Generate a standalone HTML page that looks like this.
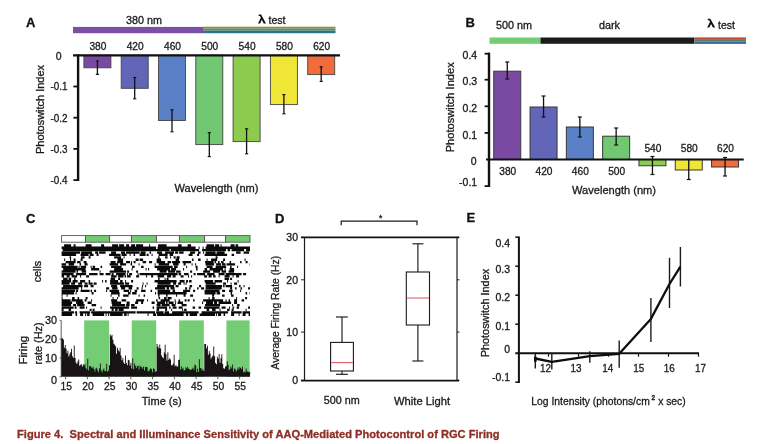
<!DOCTYPE html><html><head><meta charset="utf-8"><title>Figure 4</title>
<style>html,body{margin:0;padding:0;background:#fff;}body{width:758px;height:444px;overflow:hidden;font-family:"Liberation Sans",sans-serif;}svg{display:block;position:absolute;left:0;top:0;}text{font-family:"Liberation Sans",sans-serif;}</style></head><body>
<svg width="758" height="444" viewBox="0 0 758 444" style="filter:blur(0.35px)">
<rect x="0" y="0" width="758" height="444" fill="#ffffff"/>
<text x="26" y="27" font-size="13" text-anchor="start" font-weight="bold" fill="#111" stroke="#111" stroke-width="0.3" >A</text>
<rect x="73.00" y="26.90" width="130.00" height="6.30" fill="#7b4fa6"/>
<rect x="203.00" y="26.70" width="132.50" height="1.60" fill="#c07a35"/>
<rect x="203.00" y="28.30" width="132.50" height="2.40" fill="#5f9060"/>
<rect x="203.00" y="30.70" width="132.50" height="2.50" fill="#2a7485"/>
<text x="144" y="23.7" font-size="10.5" text-anchor="middle" font-weight="normal" fill="#1a1a1a" stroke="#1a1a1a" stroke-width="0.3" textLength="36" lengthAdjust="spacingAndGlyphs" >380 nm</text>
<path transform="translate(258,14.6)" d="M0.6 0H3.1L8 8.8H5.7L3.85 5.2L2.1 8.8H0L2.8 3.1L2.0 1.5H0.6Z" fill="#111"/>
<text x="268.5" y="23.8" font-size="10.5" text-anchor="start" font-weight="normal" fill="#1a1a1a" stroke="#1a1a1a" stroke-width="0.3" textLength="17" lengthAdjust="spacingAndGlyphs" >test</text>
<rect x="83.90" y="55.30" width="27.00" height="12.50" fill="#7a4aa3" stroke="#444" stroke-width="0.9"/>
<line x1="97.40" y1="61.00" x2="97.40" y2="74.40" stroke="#111" stroke-width="1.3"/>
<line x1="95.80" y1="61.00" x2="99.00" y2="61.00" stroke="#111" stroke-width="1.1"/>
<line x1="95.80" y1="74.40" x2="99.00" y2="74.40" stroke="#111" stroke-width="1.1"/>
<text x="97.9" y="49.8" font-size="10.5" text-anchor="middle" font-weight="normal" fill="#1a1a1a" stroke="#1a1a1a" stroke-width="0.3" textLength="17" lengthAdjust="spacingAndGlyphs" >380</text>
<rect x="121.20" y="55.30" width="27.00" height="33.00" fill="#6266b9" stroke="#444" stroke-width="0.9"/>
<line x1="134.70" y1="77.50" x2="134.70" y2="98.80" stroke="#111" stroke-width="1.3"/>
<line x1="133.10" y1="77.50" x2="136.30" y2="77.50" stroke="#111" stroke-width="1.1"/>
<line x1="133.10" y1="98.80" x2="136.30" y2="98.80" stroke="#111" stroke-width="1.1"/>
<text x="135.2" y="49.8" font-size="10.5" text-anchor="middle" font-weight="normal" fill="#1a1a1a" stroke="#1a1a1a" stroke-width="0.3" textLength="17" lengthAdjust="spacingAndGlyphs" >420</text>
<rect x="158.50" y="55.30" width="27.00" height="65.20" fill="#5a80c8" stroke="#444" stroke-width="0.9"/>
<line x1="172.00" y1="109.80" x2="172.00" y2="131.80" stroke="#111" stroke-width="1.3"/>
<line x1="170.40" y1="109.80" x2="173.60" y2="109.80" stroke="#111" stroke-width="1.1"/>
<line x1="170.40" y1="131.80" x2="173.60" y2="131.80" stroke="#111" stroke-width="1.1"/>
<text x="172.5" y="49.8" font-size="10.5" text-anchor="middle" font-weight="normal" fill="#1a1a1a" stroke="#1a1a1a" stroke-width="0.3" textLength="17" lengthAdjust="spacingAndGlyphs" >460</text>
<rect x="195.80" y="55.30" width="27.00" height="89.30" fill="#72c872" stroke="#444" stroke-width="0.9"/>
<line x1="209.30" y1="132.60" x2="209.30" y2="156.60" stroke="#111" stroke-width="1.3"/>
<line x1="207.70" y1="132.60" x2="210.90" y2="132.60" stroke="#111" stroke-width="1.1"/>
<line x1="207.70" y1="156.60" x2="210.90" y2="156.60" stroke="#111" stroke-width="1.1"/>
<text x="209.8" y="49.8" font-size="10.5" text-anchor="middle" font-weight="normal" fill="#1a1a1a" stroke="#1a1a1a" stroke-width="0.3" textLength="17" lengthAdjust="spacingAndGlyphs" >500</text>
<rect x="233.10" y="55.30" width="27.00" height="86.30" fill="#8ccb4e" stroke="#444" stroke-width="0.9"/>
<line x1="246.60" y1="128.80" x2="246.60" y2="153.80" stroke="#111" stroke-width="1.3"/>
<line x1="245.00" y1="128.80" x2="248.20" y2="128.80" stroke="#111" stroke-width="1.1"/>
<line x1="245.00" y1="153.80" x2="248.20" y2="153.80" stroke="#111" stroke-width="1.1"/>
<text x="247.1" y="49.8" font-size="10.5" text-anchor="middle" font-weight="normal" fill="#1a1a1a" stroke="#1a1a1a" stroke-width="0.3" textLength="17" lengthAdjust="spacingAndGlyphs" >540</text>
<rect x="270.40" y="55.30" width="27.00" height="49.30" fill="#f0e636" stroke="#444" stroke-width="0.9"/>
<line x1="283.90" y1="94.60" x2="283.90" y2="113.80" stroke="#111" stroke-width="1.3"/>
<line x1="282.30" y1="94.60" x2="285.50" y2="94.60" stroke="#111" stroke-width="1.1"/>
<line x1="282.30" y1="113.80" x2="285.50" y2="113.80" stroke="#111" stroke-width="1.1"/>
<text x="284.4" y="49.8" font-size="10.5" text-anchor="middle" font-weight="normal" fill="#1a1a1a" stroke="#1a1a1a" stroke-width="0.3" textLength="17" lengthAdjust="spacingAndGlyphs" >580</text>
<rect x="307.70" y="55.30" width="27.00" height="19.30" fill="#f26b3a" stroke="#444" stroke-width="0.9"/>
<line x1="321.20" y1="66.80" x2="321.20" y2="81.40" stroke="#111" stroke-width="1.3"/>
<line x1="319.60" y1="66.80" x2="322.80" y2="66.80" stroke="#111" stroke-width="1.1"/>
<line x1="319.60" y1="81.40" x2="322.80" y2="81.40" stroke="#111" stroke-width="1.1"/>
<text x="321.7" y="49.8" font-size="10.5" text-anchor="middle" font-weight="normal" fill="#1a1a1a" stroke="#1a1a1a" stroke-width="0.3" textLength="17" lengthAdjust="spacingAndGlyphs" >620</text>
<line x1="73.00" y1="55.30" x2="340.00" y2="55.30" stroke="#111" stroke-width="2.2"/>
<line x1="78.10" y1="54.30" x2="78.10" y2="181.00" stroke="#111" stroke-width="2.4"/>
<line x1="73.40" y1="86.50" x2="78.10" y2="86.50" stroke="#111" stroke-width="1.8"/>
<text x="67.5" y="90.3" font-size="10.5" text-anchor="end" font-weight="normal" fill="#1a1a1a" stroke="#1a1a1a" stroke-width="0.3" textLength="17" lengthAdjust="spacingAndGlyphs" >-0.1</text>
<line x1="73.40" y1="117.70" x2="78.10" y2="117.70" stroke="#111" stroke-width="1.8"/>
<text x="67.5" y="121.49999999999999" font-size="10.5" text-anchor="end" font-weight="normal" fill="#1a1a1a" stroke="#1a1a1a" stroke-width="0.3" textLength="17" lengthAdjust="spacingAndGlyphs" >-0.2</text>
<line x1="73.40" y1="148.90" x2="78.10" y2="148.90" stroke="#111" stroke-width="1.8"/>
<text x="67.5" y="152.7" font-size="10.5" text-anchor="end" font-weight="normal" fill="#1a1a1a" stroke="#1a1a1a" stroke-width="0.3" textLength="17" lengthAdjust="spacingAndGlyphs" >-0.3</text>
<line x1="73.40" y1="180.10" x2="78.10" y2="180.10" stroke="#111" stroke-width="1.8"/>
<text x="67.5" y="183.9" font-size="10.5" text-anchor="end" font-weight="normal" fill="#1a1a1a" stroke="#1a1a1a" stroke-width="0.3" textLength="17" lengthAdjust="spacingAndGlyphs" >-0.4</text>
<text x="61.6" y="59.5" font-size="10.5" text-anchor="end" font-weight="normal" fill="#1a1a1a" stroke="#1a1a1a" stroke-width="0.3" >0</text>
<text transform="translate(44.3,109.5) rotate(-90)" font-size="10.5" text-anchor="middle" fill="#1a1a1a" stroke="#1a1a1a" stroke-width="0.3" textLength="89" lengthAdjust="spacingAndGlyphs">Photoswitch Index</text>
<text x="216.5" y="192" font-size="10.5" text-anchor="middle" font-weight="normal" fill="#1a1a1a" stroke="#1a1a1a" stroke-width="0.3" textLength="84" lengthAdjust="spacingAndGlyphs" >Wavelength (nm)</text>
<text x="465.5" y="27" font-size="13" text-anchor="start" font-weight="bold" fill="#111" stroke="#111" stroke-width="0.3" >B</text>
<rect x="489.50" y="37.50" width="51.00" height="6.30" fill="#74cc74"/>
<rect x="540.50" y="37.50" width="154.00" height="6.30" fill="#1c1c1c"/>
<rect x="694.70" y="37.40" width="51.30" height="1.70" fill="#b84a3a"/>
<rect x="694.70" y="39.10" width="51.30" height="2.30" fill="#5f7a68"/>
<rect x="694.70" y="41.40" width="51.30" height="2.50" fill="#3a6a9a"/>
<text x="514" y="28.9" font-size="10.5" text-anchor="middle" font-weight="normal" fill="#1a1a1a" stroke="#1a1a1a" stroke-width="0.3" textLength="36" lengthAdjust="spacingAndGlyphs" >500 nm</text>
<text x="609.5" y="28.5" font-size="10.5" text-anchor="middle" font-weight="normal" fill="#1a1a1a" stroke="#1a1a1a" stroke-width="0.3" textLength="21" lengthAdjust="spacingAndGlyphs" >dark</text>
<path transform="translate(707.2,18.8)" d="M0.6 0H3.1L8 8.8H5.7L3.85 5.2L2.1 8.8H0L2.8 3.1L2.0 1.5H0.6Z" fill="#111"/>
<text x="718" y="28.7" font-size="10.5" text-anchor="start" font-weight="normal" fill="#1a1a1a" stroke="#1a1a1a" stroke-width="0.3" textLength="17" lengthAdjust="spacingAndGlyphs" >test</text>
<rect x="493.75" y="71.20" width="27.00" height="88.30" fill="#7a4aa3" stroke="#383838" stroke-width="1.0"/>
<line x1="507.25" y1="62.00" x2="507.25" y2="79.00" stroke="#111" stroke-width="1.3"/>
<line x1="505.25" y1="62.00" x2="509.25" y2="62.00" stroke="#111" stroke-width="1.2"/>
<line x1="505.25" y1="79.00" x2="509.25" y2="79.00" stroke="#111" stroke-width="1.2"/>
<text x="507.75" y="175" font-size="10.5" text-anchor="middle" font-weight="normal" fill="#1a1a1a" stroke="#1a1a1a" stroke-width="0.3" textLength="17" lengthAdjust="spacingAndGlyphs" >380</text>
<rect x="530.05" y="107.00" width="27.00" height="52.50" fill="#6266b9" stroke="#383838" stroke-width="1.0"/>
<line x1="543.55" y1="96.00" x2="543.55" y2="117.00" stroke="#111" stroke-width="1.3"/>
<line x1="541.55" y1="96.00" x2="545.55" y2="96.00" stroke="#111" stroke-width="1.2"/>
<line x1="541.55" y1="117.00" x2="545.55" y2="117.00" stroke="#111" stroke-width="1.2"/>
<text x="544.05" y="175" font-size="10.5" text-anchor="middle" font-weight="normal" fill="#1a1a1a" stroke="#1a1a1a" stroke-width="0.3" textLength="17" lengthAdjust="spacingAndGlyphs" >420</text>
<rect x="566.35" y="127.00" width="27.00" height="32.50" fill="#5a80c8" stroke="#383838" stroke-width="1.0"/>
<line x1="579.85" y1="117.00" x2="579.85" y2="137.00" stroke="#111" stroke-width="1.3"/>
<line x1="577.85" y1="117.00" x2="581.85" y2="117.00" stroke="#111" stroke-width="1.2"/>
<line x1="577.85" y1="137.00" x2="581.85" y2="137.00" stroke="#111" stroke-width="1.2"/>
<text x="580.35" y="175" font-size="10.5" text-anchor="middle" font-weight="normal" fill="#1a1a1a" stroke="#1a1a1a" stroke-width="0.3" textLength="17" lengthAdjust="spacingAndGlyphs" >460</text>
<rect x="602.65" y="136.20" width="27.00" height="23.30" fill="#72c872" stroke="#383838" stroke-width="1.0"/>
<line x1="616.15" y1="128.00" x2="616.15" y2="145.00" stroke="#111" stroke-width="1.3"/>
<line x1="614.15" y1="128.00" x2="618.15" y2="128.00" stroke="#111" stroke-width="1.2"/>
<line x1="614.15" y1="145.00" x2="618.15" y2="145.00" stroke="#111" stroke-width="1.2"/>
<text x="616.65" y="175" font-size="10.5" text-anchor="middle" font-weight="normal" fill="#1a1a1a" stroke="#1a1a1a" stroke-width="0.3" textLength="17" lengthAdjust="spacingAndGlyphs" >500</text>
<rect x="638.95" y="159.50" width="27.00" height="6.25" fill="#8ccb4e" stroke="#383838" stroke-width="1.0"/>
<line x1="652.45" y1="156.50" x2="652.45" y2="174.50" stroke="#111" stroke-width="1.3"/>
<line x1="650.45" y1="156.50" x2="654.45" y2="156.50" stroke="#111" stroke-width="1.2"/>
<line x1="650.45" y1="174.50" x2="654.45" y2="174.50" stroke="#111" stroke-width="1.2"/>
<text x="652.95" y="151.5" font-size="10.5" text-anchor="middle" font-weight="normal" fill="#1a1a1a" stroke="#1a1a1a" stroke-width="0.3" textLength="17" lengthAdjust="spacingAndGlyphs" >540</text>
<rect x="675.25" y="159.50" width="27.00" height="10.50" fill="#f0e636" stroke="#383838" stroke-width="1.0"/>
<line x1="688.75" y1="159.50" x2="688.75" y2="179.50" stroke="#111" stroke-width="1.3"/>
<line x1="686.75" y1="159.50" x2="690.75" y2="159.50" stroke="#111" stroke-width="1.2"/>
<line x1="686.75" y1="179.50" x2="690.75" y2="179.50" stroke="#111" stroke-width="1.2"/>
<text x="689.25" y="151.5" font-size="10.5" text-anchor="middle" font-weight="normal" fill="#1a1a1a" stroke="#1a1a1a" stroke-width="0.3" textLength="17" lengthAdjust="spacingAndGlyphs" >580</text>
<rect x="711.55" y="159.50" width="27.00" height="7.50" fill="#f26b3a" stroke="#383838" stroke-width="1.0"/>
<line x1="725.05" y1="157.50" x2="725.05" y2="176.00" stroke="#111" stroke-width="1.3"/>
<line x1="723.05" y1="157.50" x2="727.05" y2="157.50" stroke="#111" stroke-width="1.2"/>
<line x1="723.05" y1="176.00" x2="727.05" y2="176.00" stroke="#111" stroke-width="1.2"/>
<text x="725.55" y="151.5" font-size="10.5" text-anchor="middle" font-weight="normal" fill="#1a1a1a" stroke="#1a1a1a" stroke-width="0.3" textLength="17" lengthAdjust="spacingAndGlyphs" >620</text>
<line x1="486.00" y1="159.50" x2="743.75" y2="159.50" stroke="#111" stroke-width="2.2"/>
<line x1="489.00" y1="52.60" x2="489.00" y2="187.00" stroke="#111" stroke-width="2.4"/>
<line x1="484.60" y1="53.70" x2="489.00" y2="53.70" stroke="#111" stroke-width="1.8"/>
<text x="477.2" y="59.3" font-size="10.5" text-anchor="end" font-weight="normal" fill="#1a1a1a" stroke="#1a1a1a" stroke-width="0.3" >0.4</text>
<line x1="484.60" y1="79.70" x2="489.00" y2="79.70" stroke="#111" stroke-width="1.8"/>
<text x="477.2" y="85.39999999999999" font-size="10.5" text-anchor="end" font-weight="normal" fill="#1a1a1a" stroke="#1a1a1a" stroke-width="0.3" >0.3</text>
<line x1="484.60" y1="106.30" x2="489.00" y2="106.30" stroke="#111" stroke-width="1.8"/>
<text x="477.2" y="112.39999999999999" font-size="10.5" text-anchor="end" font-weight="normal" fill="#1a1a1a" stroke="#1a1a1a" stroke-width="0.3" >0.2</text>
<line x1="484.60" y1="132.90" x2="489.00" y2="132.90" stroke="#111" stroke-width="1.8"/>
<text x="477.2" y="139.10000000000002" font-size="10.5" text-anchor="end" font-weight="normal" fill="#1a1a1a" stroke="#1a1a1a" stroke-width="0.3" >0.1</text>
<line x1="484.60" y1="186.10" x2="489.00" y2="186.10" stroke="#111" stroke-width="1.8"/>
<text x="477.2" y="186.10000000000002" font-size="10.5" text-anchor="end" font-weight="normal" fill="#1a1a1a" stroke="#1a1a1a" stroke-width="0.3" >-0.1</text>
<text x="476.6" y="165.20000000000002" font-size="10.5" text-anchor="end" font-weight="normal" fill="#1a1a1a" stroke="#1a1a1a" stroke-width="0.3" >0</text>
<text transform="translate(453.6,107.3) rotate(-90)" font-size="10.5" text-anchor="middle" fill="#1a1a1a" stroke="#1a1a1a" stroke-width="0.3" textLength="90" lengthAdjust="spacingAndGlyphs">Photoswitch Index</text>
<text x="614" y="194" font-size="10.5" text-anchor="middle" font-weight="normal" fill="#1a1a1a" stroke="#1a1a1a" stroke-width="0.3" textLength="84" lengthAdjust="spacingAndGlyphs" >Wavelength (nm)</text>
<text x="26" y="223" font-size="13" text-anchor="start" font-weight="bold" fill="#111" stroke="#111" stroke-width="0.3" >C</text>
<rect x="61.60" y="235.60" width="23.90" height="6.60" fill="#ffffff" stroke="#555" stroke-width="0.9"/>
<rect x="85.50" y="235.60" width="24.10" height="6.60" fill="#72cc72" stroke="#555" stroke-width="0.9"/>
<rect x="109.60" y="235.60" width="21.80" height="6.60" fill="#ffffff" stroke="#555" stroke-width="0.9"/>
<rect x="131.40" y="235.60" width="25.00" height="6.60" fill="#72cc72" stroke="#555" stroke-width="0.9"/>
<rect x="156.40" y="235.60" width="23.00" height="6.60" fill="#ffffff" stroke="#555" stroke-width="0.9"/>
<rect x="179.40" y="235.60" width="25.20" height="6.60" fill="#72cc72" stroke="#555" stroke-width="0.9"/>
<rect x="204.60" y="235.60" width="21.00" height="6.60" fill="#ffffff" stroke="#555" stroke-width="0.9"/>
<rect x="225.60" y="235.60" width="24.40" height="6.60" fill="#72cc72" stroke="#555" stroke-width="0.9"/>
<path d="M64.1 244.2h2.0v2.3h-2.0zM66.1 244.2h2.5v2.3h-2.5zM68.6 244.2h2.5v2.3h-2.5zM73.6 244.2h1.0v2.3h-1.0zM74.6 244.2h1.0v2.3h-1.0zM85.6 244.2h2.5v2.3h-2.5zM88.1 244.2h2.5v2.3h-2.5zM90.6 244.2h1.0v2.3h-1.0zM101.1 244.2h3.0v2.3h-3.0zM112.1 244.2h2.5v2.3h-2.5zM114.6 244.2h1.0v2.3h-1.0zM115.6 244.2h1.0v2.3h-1.0zM116.6 244.2h1.5v2.3h-1.5zM119.1 244.2h1.0v2.3h-1.0zM120.1 244.2h1.0v2.3h-1.0zM121.1 244.2h3.0v2.3h-3.0zM126.1 244.2h1.5v2.3h-1.5zM127.6 244.2h1.5v2.3h-1.5zM131.1 244.2h1.0v2.3h-1.0zM132.1 244.2h3.0v2.3h-3.0zM136.1 244.2h2.0v2.3h-2.0zM138.1 244.2h2.5v2.3h-2.5zM140.6 244.2h2.5v2.3h-2.5zM149.1 244.2h1.0v2.3h-1.0zM158.1 244.2h1.0v2.3h-1.0zM159.1 244.2h1.0v2.3h-1.0zM160.1 244.2h1.5v2.3h-1.5zM161.6 244.2h2.5v2.3h-2.5zM164.1 244.2h1.5v2.3h-1.5zM165.6 244.2h1.0v2.3h-1.0zM178.1 244.2h2.5v2.3h-2.5zM180.6 244.2h1.0v2.3h-1.0zM187.6 244.2h2.5v2.3h-2.5zM190.1 244.2h1.0v2.3h-1.0zM206.6 244.2h1.0v2.3h-1.0zM207.6 244.2h2.5v2.3h-2.5zM210.1 244.2h2.5v2.3h-2.5zM212.6 244.2h1.5v2.3h-1.5zM215.1 244.2h1.0v2.3h-1.0zM216.1 244.2h2.0v2.3h-2.0zM218.1 244.2h1.0v2.3h-1.0zM220.6 244.2h1.0v2.3h-1.0zM230.6 244.2h1.0v2.3h-1.0zM231.6 244.2h3.0v2.3h-3.0zM235.6 244.2h1.5v2.3h-1.5zM237.1 244.2h1.0v2.3h-1.0zM61.6 246.6h1.0v2.3h-1.0zM62.6 246.6h2.0v2.3h-2.0zM64.6 246.6h1.0v2.3h-1.0zM65.6 246.6h2.5v2.3h-2.5zM68.1 246.6h3.0v2.3h-3.0zM71.1 246.6h2.5v2.3h-2.5zM73.6 246.6h1.0v2.3h-1.0zM74.6 246.6h3.0v2.3h-3.0zM77.6 246.6h1.5v2.3h-1.5zM79.1 246.6h3.0v2.3h-3.0zM82.1 246.6h3.0v2.3h-3.0zM85.1 246.6h2.0v2.3h-2.0zM87.1 246.6h2.5v2.3h-2.5zM89.6 246.6h2.5v2.3h-2.5zM92.1 246.6h2.5v2.3h-2.5zM94.6 246.6h1.0v2.3h-1.0zM95.6 246.6h3.0v2.3h-3.0zM98.6 246.6h2.5v2.3h-2.5zM101.1 246.6h2.0v2.3h-2.0zM103.1 246.6h1.0v2.3h-1.0zM104.1 246.6h1.0v2.3h-1.0zM105.1 246.6h1.0v2.3h-1.0zM106.1 246.6h1.5v2.3h-1.5zM107.6 246.6h2.0v2.3h-2.0zM109.6 246.6h1.0v2.3h-1.0zM110.6 246.6h3.0v2.3h-3.0zM113.6 246.6h3.0v2.3h-3.0zM116.6 246.6h1.0v2.3h-1.0zM117.6 246.6h2.0v2.3h-2.0zM119.6 246.6h1.5v2.3h-1.5zM121.1 246.6h1.0v2.3h-1.0zM122.1 246.6h1.0v2.3h-1.0zM123.1 246.6h1.5v2.3h-1.5zM124.6 246.6h1.0v2.3h-1.0zM125.6 246.6h1.5v2.3h-1.5zM127.1 246.6h2.0v2.3h-2.0zM129.1 246.6h2.5v2.3h-2.5zM131.6 246.6h1.5v2.3h-1.5zM133.1 246.6h2.5v2.3h-2.5zM135.6 246.6h1.0v2.3h-1.0zM136.6 246.6h1.5v2.3h-1.5zM138.1 246.6h1.0v2.3h-1.0zM139.1 246.6h1.5v2.3h-1.5zM140.6 246.6h1.5v2.3h-1.5zM142.1 246.6h2.5v2.3h-2.5zM144.6 246.6h1.0v2.3h-1.0zM145.6 246.6h1.0v2.3h-1.0zM146.6 246.6h1.5v2.3h-1.5zM148.1 246.6h1.0v2.3h-1.0zM149.1 246.6h3.0v2.3h-3.0zM152.1 246.6h1.0v2.3h-1.0zM153.1 246.6h3.0v2.3h-3.0zM157.6 246.6h3.0v2.3h-3.0zM160.6 246.6h2.0v2.3h-2.0zM162.6 246.6h3.0v2.3h-3.0zM165.6 246.6h2.0v2.3h-2.0zM167.6 246.6h1.0v2.3h-1.0zM168.6 246.6h1.5v2.3h-1.5zM170.1 246.6h2.5v2.3h-2.5zM172.6 246.6h2.5v2.3h-2.5zM175.1 246.6h1.0v2.3h-1.0zM176.1 246.6h3.0v2.3h-3.0zM179.1 246.6h1.0v2.3h-1.0zM180.1 246.6h3.0v2.3h-3.0zM183.1 246.6h2.0v2.3h-2.0zM185.1 246.6h3.0v2.3h-3.0zM188.1 246.6h1.0v2.3h-1.0zM189.1 246.6h2.5v2.3h-2.5zM191.6 246.6h2.5v2.3h-2.5zM194.1 246.6h1.5v2.3h-1.5zM198.6 246.6h1.0v2.3h-1.0zM202.6 246.6h1.0v2.3h-1.0zM205.6 246.6h1.5v2.3h-1.5zM207.1 246.6h1.5v2.3h-1.5zM208.6 246.6h3.0v2.3h-3.0zM211.6 246.6h1.5v2.3h-1.5zM213.1 246.6h1.0v2.3h-1.0zM214.1 246.6h2.5v2.3h-2.5zM216.6 246.6h1.5v2.3h-1.5zM218.1 246.6h1.0v2.3h-1.0zM219.1 246.6h1.0v2.3h-1.0zM220.1 246.6h1.0v2.3h-1.0zM221.1 246.6h1.5v2.3h-1.5zM222.6 246.6h1.0v2.3h-1.0zM223.6 246.6h2.5v2.3h-2.5zM226.1 246.6h2.5v2.3h-2.5zM228.6 246.6h3.0v2.3h-3.0zM231.6 246.6h2.0v2.3h-2.0zM233.6 246.6h3.0v2.3h-3.0zM236.6 246.6h1.0v2.3h-1.0zM237.6 246.6h2.5v2.3h-2.5zM240.1 246.6h3.0v2.3h-3.0zM243.1 246.6h1.0v2.3h-1.0zM244.1 246.6h2.5v2.3h-2.5zM246.6 246.6h3.0v2.3h-3.0zM249.6 246.6h0.4v2.3h-0.4zM62.6 249.0h2.5v2.3h-2.5zM65.1 249.0h2.0v2.3h-2.0zM67.1 249.0h2.5v2.3h-2.5zM69.6 249.0h1.0v2.3h-1.0zM70.6 249.0h1.0v2.3h-1.0zM71.6 249.0h1.0v2.3h-1.0zM72.6 249.0h2.0v2.3h-2.0zM74.6 249.0h2.5v2.3h-2.5zM77.1 249.0h1.0v2.3h-1.0zM78.1 249.0h1.0v2.3h-1.0zM79.1 249.0h2.0v2.3h-2.0zM81.1 249.0h2.0v2.3h-2.0zM83.1 249.0h2.0v2.3h-2.0zM85.1 249.0h1.5v2.3h-1.5zM86.6 249.0h2.0v2.3h-2.0zM88.6 249.0h1.0v2.3h-1.0zM89.6 249.0h2.5v2.3h-2.5zM92.1 249.0h1.5v2.3h-1.5zM93.6 249.0h1.0v2.3h-1.0zM94.6 249.0h1.0v2.3h-1.0zM95.6 249.0h3.0v2.3h-3.0zM98.6 249.0h3.0v2.3h-3.0zM101.6 249.0h2.5v2.3h-2.5zM104.1 249.0h2.0v2.3h-2.0zM106.1 249.0h1.0v2.3h-1.0zM107.1 249.0h2.5v2.3h-2.5zM109.6 249.0h1.0v2.3h-1.0zM110.6 249.0h2.0v2.3h-2.0zM112.6 249.0h3.0v2.3h-3.0zM115.6 249.0h2.5v2.3h-2.5zM118.1 249.0h2.5v2.3h-2.5zM120.6 249.0h3.0v2.3h-3.0zM123.6 249.0h1.0v2.3h-1.0zM124.6 249.0h2.5v2.3h-2.5zM127.1 249.0h1.0v2.3h-1.0zM128.1 249.0h3.0v2.3h-3.0zM131.1 249.0h1.5v2.3h-1.5zM132.6 249.0h1.5v2.3h-1.5zM134.1 249.0h1.0v2.3h-1.0zM135.1 249.0h1.0v2.3h-1.0zM136.1 249.0h1.0v2.3h-1.0zM137.1 249.0h1.0v2.3h-1.0zM138.1 249.0h1.5v2.3h-1.5zM139.6 249.0h2.0v2.3h-2.0zM141.6 249.0h2.0v2.3h-2.0zM143.6 249.0h3.0v2.3h-3.0zM146.6 249.0h2.0v2.3h-2.0zM148.6 249.0h1.0v2.3h-1.0zM149.6 249.0h2.5v2.3h-2.5zM152.1 249.0h1.5v2.3h-1.5zM153.6 249.0h2.5v2.3h-2.5zM156.1 249.0h1.5v2.3h-1.5zM157.6 249.0h3.0v2.3h-3.0zM160.6 249.0h1.0v2.3h-1.0zM161.6 249.0h1.0v2.3h-1.0zM162.6 249.0h2.5v2.3h-2.5zM165.1 249.0h2.5v2.3h-2.5zM167.6 249.0h1.0v2.3h-1.0zM168.6 249.0h1.0v2.3h-1.0zM170.6 249.0h3.0v2.3h-3.0zM173.6 249.0h1.0v2.3h-1.0zM174.6 249.0h3.0v2.3h-3.0zM177.6 249.0h1.0v2.3h-1.0zM178.6 249.0h2.0v2.3h-2.0zM180.6 249.0h1.5v2.3h-1.5zM182.1 249.0h2.5v2.3h-2.5zM184.6 249.0h3.0v2.3h-3.0zM187.6 249.0h1.0v2.3h-1.0zM188.6 249.0h2.0v2.3h-2.0zM190.6 249.0h1.5v2.3h-1.5zM192.1 249.0h1.0v2.3h-1.0zM193.1 249.0h1.0v2.3h-1.0zM194.1 249.0h1.0v2.3h-1.0zM195.1 249.0h1.0v2.3h-1.0zM196.1 249.0h3.0v2.3h-3.0zM202.1 249.0h2.5v2.3h-2.5zM204.6 249.0h2.5v2.3h-2.5zM207.1 249.0h1.5v2.3h-1.5zM208.6 249.0h1.5v2.3h-1.5zM210.1 249.0h1.0v2.3h-1.0zM211.1 249.0h1.0v2.3h-1.0zM212.1 249.0h2.0v2.3h-2.0zM214.1 249.0h1.5v2.3h-1.5zM215.6 249.0h3.0v2.3h-3.0zM218.6 249.0h2.0v2.3h-2.0zM220.6 249.0h2.0v2.3h-2.0zM222.6 249.0h1.0v2.3h-1.0zM223.6 249.0h1.5v2.3h-1.5zM225.1 249.0h1.0v2.3h-1.0zM227.6 249.0h2.5v2.3h-2.5zM231.6 249.0h3.0v2.3h-3.0zM234.6 249.0h1.0v2.3h-1.0zM235.6 249.0h2.5v2.3h-2.5zM238.1 249.0h1.0v2.3h-1.0zM239.1 249.0h2.0v2.3h-2.0zM241.1 249.0h3.0v2.3h-3.0zM246.1 249.0h1.0v2.3h-1.0zM247.1 249.0h1.0v2.3h-1.0zM248.1 249.0h1.5v2.3h-1.5zM249.6 249.0h0.4v2.3h-0.4zM61.6 251.4h1.0v2.3h-1.0zM62.6 251.4h1.0v2.3h-1.0zM63.6 251.4h1.5v2.3h-1.5zM65.1 251.4h1.5v2.3h-1.5zM66.6 251.4h2.5v2.3h-2.5zM69.1 251.4h2.5v2.3h-2.5zM71.6 251.4h1.0v2.3h-1.0zM72.6 251.4h3.0v2.3h-3.0zM75.6 251.4h2.5v2.3h-2.5zM78.1 251.4h1.0v2.3h-1.0zM79.1 251.4h1.0v2.3h-1.0zM81.1 251.4h2.5v2.3h-2.5zM83.6 251.4h1.0v2.3h-1.0zM84.6 251.4h2.0v2.3h-2.0zM86.6 251.4h2.5v2.3h-2.5zM89.1 251.4h1.5v2.3h-1.5zM90.6 251.4h1.5v2.3h-1.5zM95.1 251.4h3.0v2.3h-3.0zM99.1 251.4h2.5v2.3h-2.5zM101.6 251.4h1.0v2.3h-1.0zM102.6 251.4h3.0v2.3h-3.0zM111.1 251.4h1.0v2.3h-1.0zM112.1 251.4h1.0v2.3h-1.0zM113.1 251.4h2.0v2.3h-2.0zM115.1 251.4h1.0v2.3h-1.0zM121.1 251.4h1.0v2.3h-1.0zM122.1 251.4h1.0v2.3h-1.0zM123.1 251.4h2.0v2.3h-2.0zM126.1 251.4h1.5v2.3h-1.5zM127.6 251.4h1.0v2.3h-1.0zM128.6 251.4h1.0v2.3h-1.0zM129.6 251.4h2.0v2.3h-2.0zM131.6 251.4h3.0v2.3h-3.0zM134.6 251.4h2.0v2.3h-2.0zM136.6 251.4h3.0v2.3h-3.0zM140.6 251.4h3.0v2.3h-3.0zM143.6 251.4h2.0v2.3h-2.0zM149.6 251.4h1.5v2.3h-1.5zM157.1 251.4h3.0v2.3h-3.0zM160.1 251.4h1.0v2.3h-1.0zM161.1 251.4h1.0v2.3h-1.0zM165.1 251.4h3.0v2.3h-3.0zM168.1 251.4h1.0v2.3h-1.0zM169.1 251.4h1.5v2.3h-1.5zM170.6 251.4h2.5v2.3h-2.5zM173.1 251.4h1.0v2.3h-1.0zM175.1 251.4h3.0v2.3h-3.0zM179.1 251.4h1.5v2.3h-1.5zM180.6 251.4h1.5v2.3h-1.5zM182.1 251.4h1.5v2.3h-1.5zM190.1 251.4h1.0v2.3h-1.0zM191.1 251.4h3.0v2.3h-3.0zM194.1 251.4h1.0v2.3h-1.0zM198.1 251.4h2.5v2.3h-2.5zM203.1 251.4h1.0v2.3h-1.0zM205.6 251.4h2.0v2.3h-2.0zM207.6 251.4h1.0v2.3h-1.0zM208.6 251.4h2.0v2.3h-2.0zM210.6 251.4h2.0v2.3h-2.0zM212.6 251.4h2.0v2.3h-2.0zM214.6 251.4h1.0v2.3h-1.0zM216.6 251.4h2.5v2.3h-2.5zM219.1 251.4h1.5v2.3h-1.5zM220.6 251.4h3.0v2.3h-3.0zM223.6 251.4h1.0v2.3h-1.0zM236.1 251.4h2.0v2.3h-2.0zM238.1 251.4h1.5v2.3h-1.5zM239.6 251.4h1.0v2.3h-1.0zM243.6 251.4h1.0v2.3h-1.0zM244.6 251.4h1.5v2.3h-1.5zM246.1 251.4h3.0v2.3h-3.0zM61.6 253.8h1.5v2.3h-1.5zM63.1 253.8h2.5v2.3h-2.5zM65.6 253.8h2.5v2.3h-2.5zM68.1 253.8h1.0v2.3h-1.0zM69.1 253.8h2.0v2.3h-2.0zM71.1 253.8h1.5v2.3h-1.5zM72.6 253.8h1.0v2.3h-1.0zM73.6 253.8h2.5v2.3h-2.5zM80.6 253.8h2.0v2.3h-2.0zM82.6 253.8h2.5v2.3h-2.5zM85.1 253.8h2.5v2.3h-2.5zM87.6 253.8h1.0v2.3h-1.0zM89.6 253.8h1.0v2.3h-1.0zM90.6 253.8h3.0v2.3h-3.0zM96.6 253.8h2.0v2.3h-2.0zM109.1 253.8h3.0v2.3h-3.0zM112.1 253.8h2.5v2.3h-2.5zM114.6 253.8h2.0v2.3h-2.0zM116.6 253.8h3.0v2.3h-3.0zM119.6 253.8h1.0v2.3h-1.0zM121.6 253.8h2.5v2.3h-2.5zM124.1 253.8h2.5v2.3h-2.5zM129.6 253.8h1.0v2.3h-1.0zM133.6 253.8h1.5v2.3h-1.5zM139.6 253.8h3.0v2.3h-3.0zM142.6 253.8h3.0v2.3h-3.0zM146.6 253.8h2.0v2.3h-2.0zM151.6 253.8h1.0v2.3h-1.0zM158.6 253.8h2.0v2.3h-2.0zM160.6 253.8h1.5v2.3h-1.5zM162.1 253.8h1.5v2.3h-1.5zM163.6 253.8h2.5v2.3h-2.5zM166.1 253.8h1.5v2.3h-1.5zM169.6 253.8h1.5v2.3h-1.5zM171.1 253.8h1.0v2.3h-1.0zM172.1 253.8h1.0v2.3h-1.0zM188.6 253.8h1.5v2.3h-1.5zM190.1 253.8h2.5v2.3h-2.5zM197.1 253.8h1.0v2.3h-1.0zM198.1 253.8h1.0v2.3h-1.0zM204.6 253.8h3.0v2.3h-3.0zM207.6 253.8h3.0v2.3h-3.0zM210.6 253.8h2.5v2.3h-2.5zM213.1 253.8h1.0v2.3h-1.0zM214.1 253.8h3.0v2.3h-3.0zM217.1 253.8h2.0v2.3h-2.0zM219.1 253.8h2.5v2.3h-2.5zM221.6 253.8h2.0v2.3h-2.0zM223.6 253.8h1.5v2.3h-1.5zM225.1 253.8h2.0v2.3h-2.0zM231.6 253.8h1.5v2.3h-1.5zM233.1 253.8h1.0v2.3h-1.0zM69.6 256.2h1.5v2.3h-1.5zM81.1 256.2h1.0v2.3h-1.0zM82.1 256.2h2.5v2.3h-2.5zM88.6 256.2h2.0v2.3h-2.0zM114.1 256.2h1.5v2.3h-1.5zM115.6 256.2h1.5v2.3h-1.5zM117.1 256.2h2.0v2.3h-2.0zM119.1 256.2h2.0v2.3h-2.0zM123.6 256.2h1.0v2.3h-1.0zM158.1 256.2h1.5v2.3h-1.5zM165.1 256.2h1.0v2.3h-1.0zM166.1 256.2h1.5v2.3h-1.5zM170.1 256.2h1.0v2.3h-1.0zM173.6 256.2h2.0v2.3h-2.0zM176.6 256.2h3.0v2.3h-3.0zM215.6 256.2h2.0v2.3h-2.0zM64.1 258.6h1.0v2.3h-1.0zM70.1 258.6h1.0v2.3h-1.0zM73.6 258.6h2.0v2.3h-2.0zM80.6 258.6h2.0v2.3h-2.0zM117.6 258.6h1.0v2.3h-1.0zM118.6 258.6h1.5v2.3h-1.5zM120.1 258.6h3.0v2.3h-3.0zM135.6 258.6h3.0v2.3h-3.0zM139.6 258.6h2.5v2.3h-2.5zM142.1 258.6h1.0v2.3h-1.0zM156.6 258.6h2.5v2.3h-2.5zM159.1 258.6h2.0v2.3h-2.0zM175.6 258.6h2.5v2.3h-2.5zM178.1 258.6h1.0v2.3h-1.0zM192.1 258.6h1.5v2.3h-1.5zM198.1 258.6h2.5v2.3h-2.5zM206.6 258.6h1.0v2.3h-1.0zM211.1 258.6h3.0v2.3h-3.0zM214.1 258.6h1.0v2.3h-1.0zM215.1 258.6h2.0v2.3h-2.0zM223.1 258.6h2.0v2.3h-2.0zM244.6 258.6h1.0v2.3h-1.0zM65.6 261.0h3.0v2.3h-3.0zM68.6 261.0h1.5v2.3h-1.5zM70.1 261.0h2.5v2.3h-2.5zM72.6 261.0h2.0v2.3h-2.0zM74.6 261.0h1.0v2.3h-1.0zM77.1 261.0h2.5v2.3h-2.5zM79.6 261.0h1.0v2.3h-1.0zM83.6 261.0h3.0v2.3h-3.0zM110.6 261.0h2.0v2.3h-2.0zM112.6 261.0h2.0v2.3h-2.0zM114.6 261.0h1.0v2.3h-1.0zM117.1 261.0h2.5v2.3h-2.5zM119.6 261.0h1.0v2.3h-1.0zM120.6 261.0h2.5v2.3h-2.5zM126.1 261.0h1.5v2.3h-1.5zM127.6 261.0h1.0v2.3h-1.0zM128.6 261.0h1.5v2.3h-1.5zM131.1 261.0h1.0v2.3h-1.0zM133.6 261.0h2.0v2.3h-2.0zM142.6 261.0h1.0v2.3h-1.0zM143.6 261.0h2.5v2.3h-2.5zM149.1 261.0h3.0v2.3h-3.0zM156.6 261.0h3.0v2.3h-3.0zM159.6 261.0h1.0v2.3h-1.0zM160.6 261.0h2.5v2.3h-2.5zM163.1 261.0h2.0v2.3h-2.0zM167.6 261.0h1.0v2.3h-1.0zM168.6 261.0h1.5v2.3h-1.5zM170.1 261.0h1.0v2.3h-1.0zM172.1 261.0h2.0v2.3h-2.0zM174.1 261.0h3.0v2.3h-3.0zM177.1 261.0h3.0v2.3h-3.0zM182.6 261.0h1.5v2.3h-1.5zM184.1 261.0h3.0v2.3h-3.0zM187.1 261.0h2.0v2.3h-2.0zM189.1 261.0h2.0v2.3h-2.0zM205.1 261.0h2.0v2.3h-2.0zM207.1 261.0h3.0v2.3h-3.0zM210.1 261.0h1.5v2.3h-1.5zM211.6 261.0h1.0v2.3h-1.0zM212.6 261.0h1.0v2.3h-1.0zM214.6 261.0h1.5v2.3h-1.5zM218.1 261.0h1.5v2.3h-1.5zM221.1 261.0h1.0v2.3h-1.0zM222.1 261.0h1.5v2.3h-1.5zM229.6 261.0h1.5v2.3h-1.5zM240.1 261.0h1.5v2.3h-1.5zM245.6 261.0h2.0v2.3h-2.0zM61.6 263.3h1.0v2.3h-1.0zM62.6 263.3h1.0v2.3h-1.0zM63.6 263.3h1.5v2.3h-1.5zM65.1 263.3h1.0v2.3h-1.0zM68.6 263.3h1.0v2.3h-1.0zM69.6 263.3h2.0v2.3h-2.0zM71.6 263.3h2.5v2.3h-2.5zM79.6 263.3h1.5v2.3h-1.5zM84.6 263.3h3.0v2.3h-3.0zM109.6 263.3h1.0v2.3h-1.0zM110.6 263.3h1.5v2.3h-1.5zM112.1 263.3h2.0v2.3h-2.0zM114.1 263.3h3.0v2.3h-3.0zM117.1 263.3h1.0v2.3h-1.0zM120.1 263.3h1.0v2.3h-1.0zM121.1 263.3h2.0v2.3h-2.0zM123.1 263.3h3.0v2.3h-3.0zM130.6 263.3h1.5v2.3h-1.5zM138.6 263.3h1.0v2.3h-1.0zM154.6 263.3h1.0v2.3h-1.0zM158.6 263.3h1.0v2.3h-1.0zM159.6 263.3h1.5v2.3h-1.5zM161.1 263.3h1.0v2.3h-1.0zM162.1 263.3h1.0v2.3h-1.0zM163.1 263.3h2.0v2.3h-2.0zM165.1 263.3h1.0v2.3h-1.0zM166.1 263.3h3.0v2.3h-3.0zM173.1 263.3h2.5v2.3h-2.5zM175.6 263.3h3.0v2.3h-3.0zM183.6 263.3h2.0v2.3h-2.0zM191.6 263.3h1.0v2.3h-1.0zM195.1 263.3h1.0v2.3h-1.0zM205.6 263.3h2.5v2.3h-2.5zM208.1 263.3h1.0v2.3h-1.0zM209.1 263.3h2.5v2.3h-2.5zM211.6 263.3h2.5v2.3h-2.5zM216.1 263.3h2.0v2.3h-2.0zM218.1 263.3h3.0v2.3h-3.0zM222.1 263.3h2.5v2.3h-2.5zM224.6 263.3h1.0v2.3h-1.0zM226.6 263.3h1.5v2.3h-1.5zM228.1 263.3h2.0v2.3h-2.0zM230.1 263.3h1.0v2.3h-1.0zM231.1 263.3h1.5v2.3h-1.5zM232.6 263.3h2.5v2.3h-2.5zM249.6 263.3h0.4v2.3h-0.4zM61.6 265.7h1.0v2.3h-1.0zM62.6 265.7h3.0v2.3h-3.0zM65.6 265.7h3.0v2.3h-3.0zM68.6 265.7h1.5v2.3h-1.5zM70.1 265.7h2.0v2.3h-2.0zM72.1 265.7h1.5v2.3h-1.5zM73.6 265.7h3.0v2.3h-3.0zM76.6 265.7h1.0v2.3h-1.0zM78.6 265.7h1.0v2.3h-1.0zM80.6 265.7h3.0v2.3h-3.0zM83.6 265.7h1.5v2.3h-1.5zM85.1 265.7h1.0v2.3h-1.0zM90.6 265.7h1.0v2.3h-1.0zM92.6 265.7h2.5v2.3h-2.5zM100.6 265.7h1.5v2.3h-1.5zM111.1 265.7h3.0v2.3h-3.0zM114.1 265.7h2.5v2.3h-2.5zM116.6 265.7h2.0v2.3h-2.0zM118.6 265.7h3.0v2.3h-3.0zM132.1 265.7h2.5v2.3h-2.5zM141.1 265.7h2.5v2.3h-2.5zM154.6 265.7h2.0v2.3h-2.0zM156.6 265.7h1.0v2.3h-1.0zM157.6 265.7h3.0v2.3h-3.0zM160.6 265.7h1.0v2.3h-1.0zM161.6 265.7h1.0v2.3h-1.0zM162.6 265.7h1.5v2.3h-1.5zM164.1 265.7h1.0v2.3h-1.0zM165.1 265.7h1.5v2.3h-1.5zM166.6 265.7h1.5v2.3h-1.5zM168.1 265.7h2.5v2.3h-2.5zM170.6 265.7h2.0v2.3h-2.0zM174.1 265.7h1.0v2.3h-1.0zM175.1 265.7h2.5v2.3h-2.5zM186.1 265.7h1.0v2.3h-1.0zM195.6 265.7h2.0v2.3h-2.0zM206.6 265.7h2.5v2.3h-2.5zM209.1 265.7h2.0v2.3h-2.0zM211.1 265.7h1.5v2.3h-1.5zM215.6 265.7h3.0v2.3h-3.0zM218.6 265.7h3.0v2.3h-3.0zM221.6 265.7h1.0v2.3h-1.0zM222.6 265.7h2.5v2.3h-2.5zM225.1 265.7h1.0v2.3h-1.0zM230.1 265.7h1.5v2.3h-1.5zM237.1 265.7h1.0v2.3h-1.0zM63.1 268.1h1.0v2.3h-1.0zM64.1 268.1h2.0v2.3h-2.0zM66.1 268.1h2.0v2.3h-2.0zM68.1 268.1h3.0v2.3h-3.0zM71.1 268.1h1.0v2.3h-1.0zM72.1 268.1h1.0v2.3h-1.0zM73.1 268.1h1.5v2.3h-1.5zM74.6 268.1h2.0v2.3h-2.0zM76.6 268.1h1.5v2.3h-1.5zM78.1 268.1h3.0v2.3h-3.0zM81.1 268.1h2.5v2.3h-2.5zM83.6 268.1h2.0v2.3h-2.0zM91.1 268.1h2.5v2.3h-2.5zM93.6 268.1h3.0v2.3h-3.0zM96.6 268.1h1.0v2.3h-1.0zM97.6 268.1h1.5v2.3h-1.5zM114.1 268.1h2.0v2.3h-2.0zM116.1 268.1h1.0v2.3h-1.0zM117.1 268.1h3.0v2.3h-3.0zM120.1 268.1h1.0v2.3h-1.0zM121.1 268.1h2.0v2.3h-2.0zM131.6 268.1h1.0v2.3h-1.0zM145.6 268.1h1.0v2.3h-1.0zM148.1 268.1h1.0v2.3h-1.0zM157.1 268.1h1.0v2.3h-1.0zM158.1 268.1h1.0v2.3h-1.0zM159.1 268.1h2.5v2.3h-2.5zM161.6 268.1h1.5v2.3h-1.5zM163.1 268.1h1.0v2.3h-1.0zM164.1 268.1h2.0v2.3h-2.0zM166.1 268.1h1.0v2.3h-1.0zM167.1 268.1h1.0v2.3h-1.0zM168.1 268.1h2.0v2.3h-2.0zM171.1 268.1h2.5v2.3h-2.5zM173.6 268.1h2.5v2.3h-2.5zM183.1 268.1h1.0v2.3h-1.0zM196.1 268.1h1.5v2.3h-1.5zM204.6 268.1h2.5v2.3h-2.5zM209.6 268.1h1.0v2.3h-1.0zM210.6 268.1h1.5v2.3h-1.5zM212.1 268.1h2.5v2.3h-2.5zM214.6 268.1h1.5v2.3h-1.5zM216.1 268.1h2.0v2.3h-2.0zM218.1 268.1h3.0v2.3h-3.0zM221.1 268.1h2.0v2.3h-2.0zM224.6 268.1h1.0v2.3h-1.0zM229.6 268.1h3.0v2.3h-3.0zM232.6 268.1h1.5v2.3h-1.5zM61.6 270.5h1.0v2.3h-1.0zM62.6 270.5h2.0v2.3h-2.0zM64.6 270.5h1.5v2.3h-1.5zM66.1 270.5h1.0v2.3h-1.0zM67.1 270.5h2.5v2.3h-2.5zM69.6 270.5h2.0v2.3h-2.0zM71.6 270.5h1.5v2.3h-1.5zM73.1 270.5h1.5v2.3h-1.5zM74.6 270.5h1.0v2.3h-1.0zM76.6 270.5h1.5v2.3h-1.5zM81.6 270.5h2.0v2.3h-2.0zM83.6 270.5h2.5v2.3h-2.5zM99.6 270.5h1.0v2.3h-1.0zM109.6 270.5h1.5v2.3h-1.5zM111.1 270.5h2.5v2.3h-2.5zM113.6 270.5h3.0v2.3h-3.0zM116.6 270.5h1.5v2.3h-1.5zM118.1 270.5h3.0v2.3h-3.0zM121.1 270.5h1.0v2.3h-1.0zM122.1 270.5h1.5v2.3h-1.5zM123.6 270.5h1.0v2.3h-1.0zM124.6 270.5h1.5v2.3h-1.5zM127.1 270.5h2.0v2.3h-2.0zM136.1 270.5h2.0v2.3h-2.0zM159.6 270.5h1.5v2.3h-1.5zM161.1 270.5h2.0v2.3h-2.0zM163.1 270.5h1.5v2.3h-1.5zM164.6 270.5h2.0v2.3h-2.0zM168.1 270.5h1.5v2.3h-1.5zM169.6 270.5h3.0v2.3h-3.0zM172.6 270.5h2.5v2.3h-2.5zM176.1 270.5h2.5v2.3h-2.5zM178.6 270.5h2.0v2.3h-2.0zM190.1 270.5h2.0v2.3h-2.0zM203.1 270.5h1.5v2.3h-1.5zM204.6 270.5h3.0v2.3h-3.0zM207.6 270.5h2.5v2.3h-2.5zM213.1 270.5h1.0v2.3h-1.0zM214.1 270.5h1.0v2.3h-1.0zM215.1 270.5h1.5v2.3h-1.5zM216.6 270.5h1.5v2.3h-1.5zM218.1 270.5h1.0v2.3h-1.0zM219.1 270.5h1.0v2.3h-1.0zM221.6 270.5h2.5v2.3h-2.5zM224.1 270.5h2.0v2.3h-2.0zM228.6 270.5h2.5v2.3h-2.5zM231.1 270.5h3.0v2.3h-3.0zM61.6 272.9h3.0v2.3h-3.0zM64.6 272.9h2.5v2.3h-2.5zM67.1 272.9h1.0v2.3h-1.0zM68.1 272.9h2.5v2.3h-2.5zM70.6 272.9h3.0v2.3h-3.0zM76.1 272.9h1.0v2.3h-1.0zM77.1 272.9h1.5v2.3h-1.5zM78.6 272.9h1.0v2.3h-1.0zM79.6 272.9h3.0v2.3h-3.0zM82.6 272.9h1.0v2.3h-1.0zM83.6 272.9h2.5v2.3h-2.5zM89.1 272.9h2.5v2.3h-2.5zM91.6 272.9h2.0v2.3h-2.0zM93.6 272.9h1.0v2.3h-1.0zM94.6 272.9h3.0v2.3h-3.0zM99.6 272.9h3.0v2.3h-3.0zM102.6 272.9h1.0v2.3h-1.0zM105.6 272.9h2.5v2.3h-2.5zM108.1 272.9h1.5v2.3h-1.5zM109.6 272.9h1.0v2.3h-1.0zM111.6 272.9h1.0v2.3h-1.0zM112.6 272.9h1.0v2.3h-1.0zM116.1 272.9h2.5v2.3h-2.5zM118.6 272.9h2.5v2.3h-2.5zM121.1 272.9h1.0v2.3h-1.0zM122.1 272.9h2.5v2.3h-2.5zM124.6 272.9h1.0v2.3h-1.0zM127.1 272.9h1.0v2.3h-1.0zM129.1 272.9h3.0v2.3h-3.0zM137.6 272.9h1.0v2.3h-1.0zM139.6 272.9h1.0v2.3h-1.0zM140.6 272.9h1.5v2.3h-1.5zM142.1 272.9h2.0v2.3h-2.0zM144.1 272.9h1.0v2.3h-1.0zM145.1 272.9h2.5v2.3h-2.5zM147.6 272.9h3.0v2.3h-3.0zM150.6 272.9h3.0v2.3h-3.0zM153.6 272.9h3.0v2.3h-3.0zM156.6 272.9h2.0v2.3h-2.0zM158.6 272.9h1.0v2.3h-1.0zM159.6 272.9h2.0v2.3h-2.0zM161.6 272.9h1.5v2.3h-1.5zM163.1 272.9h3.0v2.3h-3.0zM166.1 272.9h1.5v2.3h-1.5zM167.6 272.9h2.5v2.3h-2.5zM170.1 272.9h1.0v2.3h-1.0zM171.1 272.9h1.0v2.3h-1.0zM172.1 272.9h2.5v2.3h-2.5zM174.6 272.9h3.0v2.3h-3.0zM178.6 272.9h2.5v2.3h-2.5zM184.1 272.9h1.0v2.3h-1.0zM185.1 272.9h1.0v2.3h-1.0zM186.1 272.9h1.0v2.3h-1.0zM187.1 272.9h1.5v2.3h-1.5zM193.6 272.9h1.0v2.3h-1.0zM194.6 272.9h1.0v2.3h-1.0zM197.1 272.9h3.0v2.3h-3.0zM200.1 272.9h1.0v2.3h-1.0zM201.1 272.9h1.0v2.3h-1.0zM202.1 272.9h1.0v2.3h-1.0zM203.1 272.9h1.0v2.3h-1.0zM204.1 272.9h1.0v2.3h-1.0zM207.1 272.9h1.5v2.3h-1.5zM208.6 272.9h1.0v2.3h-1.0zM209.6 272.9h3.0v2.3h-3.0zM212.6 272.9h1.0v2.3h-1.0zM213.6 272.9h1.0v2.3h-1.0zM218.6 272.9h3.0v2.3h-3.0zM221.6 272.9h1.5v2.3h-1.5zM223.1 272.9h1.5v2.3h-1.5zM225.6 272.9h3.0v2.3h-3.0zM228.6 272.9h1.0v2.3h-1.0zM229.6 272.9h1.5v2.3h-1.5zM231.1 272.9h1.0v2.3h-1.0zM232.1 272.9h2.5v2.3h-2.5zM234.6 272.9h2.5v2.3h-2.5zM237.1 272.9h2.5v2.3h-2.5zM239.6 272.9h1.0v2.3h-1.0zM240.6 272.9h1.0v2.3h-1.0zM243.1 272.9h3.0v2.3h-3.0zM61.6 275.3h2.5v2.3h-2.5zM66.6 275.3h2.0v2.3h-2.0zM68.6 275.3h1.0v2.3h-1.0zM71.6 275.3h1.0v2.3h-1.0zM72.6 275.3h2.5v2.3h-2.5zM75.1 275.3h1.0v2.3h-1.0zM76.1 275.3h1.0v2.3h-1.0zM80.1 275.3h1.0v2.3h-1.0zM86.1 275.3h1.0v2.3h-1.0zM87.1 275.3h1.0v2.3h-1.0zM88.1 275.3h1.0v2.3h-1.0zM111.1 275.3h3.0v2.3h-3.0zM114.1 275.3h2.5v2.3h-2.5zM118.1 275.3h3.0v2.3h-3.0zM121.1 275.3h2.5v2.3h-2.5zM124.6 275.3h1.5v2.3h-1.5zM127.1 275.3h1.0v2.3h-1.0zM128.1 275.3h2.5v2.3h-2.5zM136.1 275.3h3.0v2.3h-3.0zM146.1 275.3h1.0v2.3h-1.0zM151.1 275.3h2.0v2.3h-2.0zM157.6 275.3h1.5v2.3h-1.5zM159.1 275.3h3.0v2.3h-3.0zM162.1 275.3h2.0v2.3h-2.0zM167.1 275.3h1.0v2.3h-1.0zM168.1 275.3h3.0v2.3h-3.0zM172.6 275.3h3.0v2.3h-3.0zM180.6 275.3h3.0v2.3h-3.0zM188.1 275.3h1.0v2.3h-1.0zM191.1 275.3h1.0v2.3h-1.0zM204.1 275.3h3.0v2.3h-3.0zM208.6 275.3h2.0v2.3h-2.0zM210.6 275.3h1.0v2.3h-1.0zM213.1 275.3h2.5v2.3h-2.5zM218.6 275.3h1.0v2.3h-1.0zM224.6 275.3h2.0v2.3h-2.0zM226.6 275.3h3.0v2.3h-3.0zM232.6 275.3h1.0v2.3h-1.0zM236.1 275.3h3.0v2.3h-3.0zM63.1 277.7h1.0v2.3h-1.0zM64.1 277.7h1.5v2.3h-1.5zM65.6 277.7h2.0v2.3h-2.0zM68.6 277.7h2.5v2.3h-2.5zM74.1 277.7h1.5v2.3h-1.5zM110.6 277.7h1.5v2.3h-1.5zM112.1 277.7h3.0v2.3h-3.0zM118.1 277.7h2.0v2.3h-2.0zM158.1 277.7h1.5v2.3h-1.5zM164.6 277.7h1.0v2.3h-1.0zM166.6 277.7h2.0v2.3h-2.0zM224.6 277.7h2.0v2.3h-2.0zM226.6 277.7h2.5v2.3h-2.5zM230.1 277.7h2.0v2.3h-2.0zM61.6 280.1h2.5v2.3h-2.5zM64.1 280.1h2.0v2.3h-2.0zM66.1 280.1h3.0v2.3h-3.0zM69.1 280.1h2.0v2.3h-2.0zM72.6 280.1h2.0v2.3h-2.0zM74.6 280.1h1.0v2.3h-1.0zM75.6 280.1h2.0v2.3h-2.0zM80.1 280.1h2.5v2.3h-2.5zM82.6 280.1h1.5v2.3h-1.5zM84.1 280.1h1.0v2.3h-1.0zM88.6 280.1h1.5v2.3h-1.5zM102.1 280.1h1.0v2.3h-1.0zM105.1 280.1h1.5v2.3h-1.5zM110.1 280.1h1.0v2.3h-1.0zM111.1 280.1h1.5v2.3h-1.5zM112.6 280.1h1.5v2.3h-1.5zM114.1 280.1h1.0v2.3h-1.0zM115.1 280.1h3.0v2.3h-3.0zM120.1 280.1h2.5v2.3h-2.5zM125.1 280.1h1.0v2.3h-1.0zM131.1 280.1h2.0v2.3h-2.0zM154.6 280.1h2.5v2.3h-2.5zM157.1 280.1h1.5v2.3h-1.5zM158.6 280.1h1.5v2.3h-1.5zM160.1 280.1h2.0v2.3h-2.0zM162.1 280.1h2.0v2.3h-2.0zM164.1 280.1h1.0v2.3h-1.0zM165.1 280.1h3.0v2.3h-3.0zM168.1 280.1h2.5v2.3h-2.5zM170.6 280.1h3.0v2.3h-3.0zM173.6 280.1h3.0v2.3h-3.0zM179.6 280.1h1.5v2.3h-1.5zM181.1 280.1h1.0v2.3h-1.0zM182.1 280.1h1.5v2.3h-1.5zM183.6 280.1h1.0v2.3h-1.0zM186.1 280.1h1.0v2.3h-1.0zM187.1 280.1h1.0v2.3h-1.0zM189.1 280.1h2.5v2.3h-2.5zM204.6 280.1h2.5v2.3h-2.5zM207.1 280.1h1.0v2.3h-1.0zM208.1 280.1h1.5v2.3h-1.5zM209.6 280.1h1.0v2.3h-1.0zM210.6 280.1h1.0v2.3h-1.0zM211.6 280.1h1.5v2.3h-1.5zM214.6 280.1h2.5v2.3h-2.5zM217.1 280.1h3.0v2.3h-3.0zM220.1 280.1h2.0v2.3h-2.0zM227.1 280.1h1.0v2.3h-1.0zM237.6 280.1h1.0v2.3h-1.0zM61.6 282.5h3.0v2.3h-3.0zM64.6 282.5h3.0v2.3h-3.0zM67.6 282.5h2.0v2.3h-2.0zM71.1 282.5h3.0v2.3h-3.0zM74.1 282.5h1.0v2.3h-1.0zM78.1 282.5h2.5v2.3h-2.5zM80.6 282.5h1.5v2.3h-1.5zM84.6 282.5h3.0v2.3h-3.0zM88.6 282.5h3.0v2.3h-3.0zM91.6 282.5h1.0v2.3h-1.0zM93.6 282.5h3.0v2.3h-3.0zM110.1 282.5h1.0v2.3h-1.0zM111.1 282.5h1.0v2.3h-1.0zM112.1 282.5h1.5v2.3h-1.5zM113.6 282.5h3.0v2.3h-3.0zM116.6 282.5h3.0v2.3h-3.0zM119.6 282.5h2.0v2.3h-2.0zM121.6 282.5h1.0v2.3h-1.0zM122.6 282.5h1.5v2.3h-1.5zM125.1 282.5h1.0v2.3h-1.0zM126.1 282.5h3.0v2.3h-3.0zM142.6 282.5h1.0v2.3h-1.0zM146.6 282.5h1.0v2.3h-1.0zM157.6 282.5h2.5v2.3h-2.5zM160.1 282.5h3.0v2.3h-3.0zM163.1 282.5h2.5v2.3h-2.5zM165.6 282.5h2.0v2.3h-2.0zM167.6 282.5h3.0v2.3h-3.0zM173.1 282.5h1.0v2.3h-1.0zM174.1 282.5h2.0v2.3h-2.0zM178.1 282.5h3.0v2.3h-3.0zM183.6 282.5h1.0v2.3h-1.0zM185.6 282.5h1.0v2.3h-1.0zM205.6 282.5h2.0v2.3h-2.0zM207.6 282.5h2.5v2.3h-2.5zM210.1 282.5h1.0v2.3h-1.0zM211.1 282.5h2.0v2.3h-2.0zM213.1 282.5h2.5v2.3h-2.5zM223.1 282.5h3.0v2.3h-3.0zM230.6 282.5h1.0v2.3h-1.0zM234.1 282.5h3.0v2.3h-3.0zM63.1 284.9h2.0v2.3h-2.0zM65.1 284.9h2.5v2.3h-2.5zM67.6 284.9h2.0v2.3h-2.0zM69.6 284.9h1.0v2.3h-1.0zM70.6 284.9h3.0v2.3h-3.0zM73.6 284.9h3.0v2.3h-3.0zM76.6 284.9h1.0v2.3h-1.0zM77.6 284.9h2.5v2.3h-2.5zM80.1 284.9h1.5v2.3h-1.5zM81.6 284.9h1.0v2.3h-1.0zM84.1 284.9h2.5v2.3h-2.5zM86.6 284.9h1.5v2.3h-1.5zM90.6 284.9h3.0v2.3h-3.0zM111.1 284.9h1.5v2.3h-1.5zM112.6 284.9h2.0v2.3h-2.0zM114.6 284.9h2.5v2.3h-2.5zM120.1 284.9h1.0v2.3h-1.0zM121.1 284.9h2.5v2.3h-2.5zM123.6 284.9h1.0v2.3h-1.0zM124.6 284.9h1.0v2.3h-1.0zM125.6 284.9h1.0v2.3h-1.0zM126.6 284.9h3.0v2.3h-3.0zM129.6 284.9h3.0v2.3h-3.0zM142.1 284.9h1.0v2.3h-1.0zM145.1 284.9h1.0v2.3h-1.0zM157.1 284.9h2.5v2.3h-2.5zM159.6 284.9h1.0v2.3h-1.0zM160.6 284.9h1.5v2.3h-1.5zM162.1 284.9h1.5v2.3h-1.5zM163.6 284.9h2.0v2.3h-2.0zM165.6 284.9h2.0v2.3h-2.0zM167.6 284.9h1.5v2.3h-1.5zM169.1 284.9h2.5v2.3h-2.5zM171.6 284.9h1.5v2.3h-1.5zM173.1 284.9h1.0v2.3h-1.0zM175.6 284.9h3.0v2.3h-3.0zM189.6 284.9h1.5v2.3h-1.5zM191.1 284.9h1.0v2.3h-1.0zM199.1 284.9h2.0v2.3h-2.0zM205.6 284.9h1.0v2.3h-1.0zM206.6 284.9h1.0v2.3h-1.0zM207.6 284.9h2.0v2.3h-2.0zM209.6 284.9h1.0v2.3h-1.0zM210.6 284.9h3.0v2.3h-3.0zM213.6 284.9h2.5v2.3h-2.5zM216.1 284.9h1.0v2.3h-1.0zM217.1 284.9h1.0v2.3h-1.0zM218.1 284.9h1.0v2.3h-1.0zM219.1 284.9h1.0v2.3h-1.0zM220.1 284.9h1.0v2.3h-1.0zM221.1 284.9h1.0v2.3h-1.0zM223.1 284.9h1.5v2.3h-1.5zM225.6 284.9h2.5v2.3h-2.5zM228.1 284.9h2.0v2.3h-2.0zM230.1 284.9h2.0v2.3h-2.0zM239.1 284.9h1.5v2.3h-1.5zM243.6 284.9h1.0v2.3h-1.0zM61.6 287.3h1.0v2.3h-1.0zM62.6 287.3h1.5v2.3h-1.5zM64.1 287.3h1.5v2.3h-1.5zM65.6 287.3h3.0v2.3h-3.0zM68.6 287.3h1.0v2.3h-1.0zM69.6 287.3h1.0v2.3h-1.0zM70.6 287.3h1.0v2.3h-1.0zM71.6 287.3h2.0v2.3h-2.0zM73.6 287.3h3.0v2.3h-3.0zM76.6 287.3h1.0v2.3h-1.0zM77.6 287.3h1.0v2.3h-1.0zM81.1 287.3h1.0v2.3h-1.0zM106.1 287.3h3.0v2.3h-3.0zM112.1 287.3h1.0v2.3h-1.0zM113.1 287.3h1.5v2.3h-1.5zM114.6 287.3h3.0v2.3h-3.0zM121.1 287.3h1.0v2.3h-1.0zM122.1 287.3h2.0v2.3h-2.0zM124.1 287.3h1.0v2.3h-1.0zM128.6 287.3h1.5v2.3h-1.5zM130.1 287.3h2.0v2.3h-2.0zM136.6 287.3h1.0v2.3h-1.0zM137.6 287.3h1.0v2.3h-1.0zM141.6 287.3h1.0v2.3h-1.0zM155.1 287.3h3.0v2.3h-3.0zM158.1 287.3h2.5v2.3h-2.5zM160.6 287.3h2.5v2.3h-2.5zM163.1 287.3h2.0v2.3h-2.0zM166.6 287.3h2.5v2.3h-2.5zM170.6 287.3h2.0v2.3h-2.0zM172.6 287.3h2.0v2.3h-2.0zM185.1 287.3h2.0v2.3h-2.0zM189.1 287.3h1.5v2.3h-1.5zM197.1 287.3h1.5v2.3h-1.5zM201.1 287.3h2.0v2.3h-2.0zM203.1 287.3h1.0v2.3h-1.0zM205.6 287.3h3.0v2.3h-3.0zM208.6 287.3h3.0v2.3h-3.0zM211.6 287.3h1.5v2.3h-1.5zM213.1 287.3h1.0v2.3h-1.0zM214.1 287.3h1.0v2.3h-1.0zM215.1 287.3h3.0v2.3h-3.0zM218.1 287.3h2.5v2.3h-2.5zM220.6 287.3h1.0v2.3h-1.0zM230.1 287.3h2.0v2.3h-2.0zM235.1 287.3h1.5v2.3h-1.5zM240.6 287.3h1.5v2.3h-1.5zM248.1 287.3h1.9v2.3h-1.9zM61.6 289.7h2.0v2.3h-2.0zM63.6 289.7h3.0v2.3h-3.0zM66.6 289.7h2.5v2.3h-2.5zM69.1 289.7h1.0v2.3h-1.0zM70.1 289.7h2.0v2.3h-2.0zM72.1 289.7h1.0v2.3h-1.0zM73.1 289.7h2.0v2.3h-2.0zM76.1 289.7h1.0v2.3h-1.0zM77.1 289.7h1.0v2.3h-1.0zM80.6 289.7h2.5v2.3h-2.5zM83.1 289.7h1.0v2.3h-1.0zM84.1 289.7h1.5v2.3h-1.5zM85.6 289.7h1.0v2.3h-1.0zM86.6 289.7h1.0v2.3h-1.0zM87.6 289.7h2.0v2.3h-2.0zM90.6 289.7h1.5v2.3h-1.5zM94.1 289.7h2.0v2.3h-2.0zM106.1 289.7h1.0v2.3h-1.0zM109.6 289.7h3.0v2.3h-3.0zM112.6 289.7h1.0v2.3h-1.0zM113.6 289.7h2.5v2.3h-2.5zM116.1 289.7h1.5v2.3h-1.5zM117.6 289.7h1.5v2.3h-1.5zM123.6 289.7h2.0v2.3h-2.0zM125.6 289.7h1.0v2.3h-1.0zM126.6 289.7h2.5v2.3h-2.5zM130.1 289.7h1.0v2.3h-1.0zM134.6 289.7h2.5v2.3h-2.5zM141.1 289.7h1.0v2.3h-1.0zM142.1 289.7h1.0v2.3h-1.0zM143.1 289.7h1.5v2.3h-1.5zM144.6 289.7h1.0v2.3h-1.0zM150.6 289.7h1.5v2.3h-1.5zM157.6 289.7h2.5v2.3h-2.5zM160.1 289.7h1.0v2.3h-1.0zM161.1 289.7h1.5v2.3h-1.5zM162.6 289.7h3.0v2.3h-3.0zM165.6 289.7h3.0v2.3h-3.0zM168.6 289.7h1.5v2.3h-1.5zM172.6 289.7h2.5v2.3h-2.5zM183.1 289.7h2.5v2.3h-2.5zM185.6 289.7h2.5v2.3h-2.5zM188.1 289.7h2.0v2.3h-2.0zM193.1 289.7h2.0v2.3h-2.0zM204.6 289.7h2.5v2.3h-2.5zM207.1 289.7h2.5v2.3h-2.5zM209.6 289.7h2.0v2.3h-2.0zM211.6 289.7h1.5v2.3h-1.5zM213.1 289.7h2.5v2.3h-2.5zM215.6 289.7h2.0v2.3h-2.0zM217.6 289.7h2.0v2.3h-2.0zM222.1 289.7h1.0v2.3h-1.0zM223.1 289.7h2.0v2.3h-2.0zM229.1 289.7h2.5v2.3h-2.5zM231.6 289.7h1.0v2.3h-1.0zM240.1 289.7h1.0v2.3h-1.0zM61.6 292.1h1.5v2.3h-1.5zM63.1 292.1h2.5v2.3h-2.5zM65.6 292.1h2.5v2.3h-2.5zM68.1 292.1h3.0v2.3h-3.0zM71.1 292.1h3.0v2.3h-3.0zM75.6 292.1h1.0v2.3h-1.0zM91.6 292.1h2.0v2.3h-2.0zM111.1 292.1h2.5v2.3h-2.5zM113.6 292.1h1.0v2.3h-1.0zM114.6 292.1h2.0v2.3h-2.0zM116.6 292.1h1.0v2.3h-1.0zM117.6 292.1h2.0v2.3h-2.0zM128.1 292.1h2.5v2.3h-2.5zM132.1 292.1h1.5v2.3h-1.5zM133.6 292.1h3.0v2.3h-3.0zM155.1 292.1h1.0v2.3h-1.0zM157.6 292.1h2.0v2.3h-2.0zM159.6 292.1h1.0v2.3h-1.0zM160.6 292.1h1.0v2.3h-1.0zM161.6 292.1h3.0v2.3h-3.0zM164.6 292.1h1.0v2.3h-1.0zM165.6 292.1h1.5v2.3h-1.5zM167.1 292.1h2.5v2.3h-2.5zM169.6 292.1h1.5v2.3h-1.5zM171.1 292.1h1.0v2.3h-1.0zM172.1 292.1h3.0v2.3h-3.0zM175.1 292.1h1.0v2.3h-1.0zM176.1 292.1h2.5v2.3h-2.5zM178.6 292.1h1.0v2.3h-1.0zM179.6 292.1h3.0v2.3h-3.0zM182.6 292.1h2.5v2.3h-2.5zM185.1 292.1h1.5v2.3h-1.5zM204.6 292.1h1.0v2.3h-1.0zM205.6 292.1h3.0v2.3h-3.0zM208.6 292.1h1.5v2.3h-1.5zM210.1 292.1h3.0v2.3h-3.0zM213.1 292.1h2.5v2.3h-2.5zM216.6 292.1h1.0v2.3h-1.0zM217.6 292.1h2.5v2.3h-2.5zM230.6 292.1h1.5v2.3h-1.5zM245.6 292.1h1.5v2.3h-1.5zM249.6 292.1h0.4v2.3h-0.4zM61.6 294.5h1.0v2.3h-1.0zM66.6 294.5h1.0v2.3h-1.0zM110.6 294.5h1.0v2.3h-1.0zM118.1 294.5h1.5v2.3h-1.5zM123.1 294.5h2.5v2.3h-2.5zM125.6 294.5h3.0v2.3h-3.0zM138.6 294.5h1.0v2.3h-1.0zM143.6 294.5h1.5v2.3h-1.5zM158.1 294.5h1.5v2.3h-1.5zM166.1 294.5h1.5v2.3h-1.5zM176.1 294.5h1.0v2.3h-1.0zM183.6 294.5h2.0v2.3h-2.0zM190.1 294.5h3.0v2.3h-3.0zM212.1 294.5h1.0v2.3h-1.0zM213.1 294.5h1.0v2.3h-1.0zM222.1 294.5h2.5v2.3h-2.5zM231.1 294.5h2.5v2.3h-2.5zM61.6 296.9h1.0v2.3h-1.0zM72.1 296.9h2.5v2.3h-2.5zM77.6 296.9h1.5v2.3h-1.5zM85.6 296.9h2.0v2.3h-2.0zM112.6 296.9h1.0v2.3h-1.0zM117.1 296.9h1.0v2.3h-1.0zM158.6 296.9h1.5v2.3h-1.5zM164.1 296.9h2.5v2.3h-2.5zM167.6 296.9h1.0v2.3h-1.0zM168.6 296.9h3.0v2.3h-3.0zM208.6 296.9h1.0v2.3h-1.0zM212.1 296.9h2.5v2.3h-2.5zM236.1 296.9h1.0v2.3h-1.0zM245.1 296.9h2.0v2.3h-2.0zM61.6 299.2h1.0v2.3h-1.0zM62.6 299.2h1.5v2.3h-1.5zM64.1 299.2h1.0v2.3h-1.0zM65.1 299.2h2.0v2.3h-2.0zM67.1 299.2h1.0v2.3h-1.0zM68.1 299.2h2.5v2.3h-2.5zM71.6 299.2h2.5v2.3h-2.5zM74.1 299.2h1.5v2.3h-1.5zM75.6 299.2h2.5v2.3h-2.5zM78.1 299.2h3.0v2.3h-3.0zM81.1 299.2h1.5v2.3h-1.5zM84.6 299.2h2.0v2.3h-2.0zM91.1 299.2h1.0v2.3h-1.0zM111.1 299.2h2.0v2.3h-2.0zM113.1 299.2h1.0v2.3h-1.0zM114.1 299.2h1.0v2.3h-1.0zM115.1 299.2h1.0v2.3h-1.0zM116.1 299.2h1.0v2.3h-1.0zM121.6 299.2h1.5v2.3h-1.5zM123.1 299.2h1.0v2.3h-1.0zM124.1 299.2h2.0v2.3h-2.0zM136.1 299.2h1.0v2.3h-1.0zM137.1 299.2h2.0v2.3h-2.0zM139.1 299.2h2.5v2.3h-2.5zM141.6 299.2h2.5v2.3h-2.5zM147.1 299.2h1.0v2.3h-1.0zM156.1 299.2h1.5v2.3h-1.5zM160.6 299.2h1.0v2.3h-1.0zM161.6 299.2h1.0v2.3h-1.0zM162.6 299.2h1.0v2.3h-1.0zM163.6 299.2h2.5v2.3h-2.5zM166.1 299.2h1.0v2.3h-1.0zM167.1 299.2h2.5v2.3h-2.5zM174.6 299.2h1.0v2.3h-1.0zM178.6 299.2h1.5v2.3h-1.5zM184.6 299.2h2.0v2.3h-2.0zM187.6 299.2h2.0v2.3h-2.0zM193.1 299.2h1.5v2.3h-1.5zM203.1 299.2h2.0v2.3h-2.0zM205.1 299.2h1.5v2.3h-1.5zM206.6 299.2h2.0v2.3h-2.0zM208.6 299.2h2.5v2.3h-2.5zM211.1 299.2h1.5v2.3h-1.5zM212.6 299.2h1.0v2.3h-1.0zM213.6 299.2h2.5v2.3h-2.5zM216.1 299.2h1.5v2.3h-1.5zM217.6 299.2h2.5v2.3h-2.5zM220.1 299.2h3.0v2.3h-3.0zM225.6 299.2h1.0v2.3h-1.0zM228.6 299.2h1.5v2.3h-1.5zM234.1 299.2h2.0v2.3h-2.0zM236.1 299.2h1.0v2.3h-1.0zM241.6 299.2h2.5v2.3h-2.5zM61.6 301.6h3.0v2.3h-3.0zM64.6 301.6h3.0v2.3h-3.0zM67.6 301.6h2.0v2.3h-2.0zM69.6 301.6h2.5v2.3h-2.5zM76.1 301.6h2.5v2.3h-2.5zM78.6 301.6h1.0v2.3h-1.0zM79.6 301.6h1.5v2.3h-1.5zM81.1 301.6h2.5v2.3h-2.5zM87.6 301.6h1.0v2.3h-1.0zM88.6 301.6h3.0v2.3h-3.0zM111.6 301.6h2.0v2.3h-2.0zM113.6 301.6h1.0v2.3h-1.0zM114.6 301.6h3.0v2.3h-3.0zM117.6 301.6h1.0v2.3h-1.0zM118.6 301.6h1.0v2.3h-1.0zM119.6 301.6h1.5v2.3h-1.5zM126.6 301.6h3.0v2.3h-3.0zM135.1 301.6h3.0v2.3h-3.0zM141.1 301.6h2.0v2.3h-2.0zM151.6 301.6h3.0v2.3h-3.0zM157.1 301.6h1.0v2.3h-1.0zM158.1 301.6h3.0v2.3h-3.0zM161.1 301.6h2.5v2.3h-2.5zM163.6 301.6h1.5v2.3h-1.5zM166.1 301.6h1.5v2.3h-1.5zM168.6 301.6h2.5v2.3h-2.5zM171.1 301.6h2.5v2.3h-2.5zM175.1 301.6h1.0v2.3h-1.0zM177.6 301.6h2.0v2.3h-2.0zM179.6 301.6h1.5v2.3h-1.5zM181.1 301.6h2.0v2.3h-2.0zM202.1 301.6h1.0v2.3h-1.0zM206.1 301.6h1.0v2.3h-1.0zM207.1 301.6h1.5v2.3h-1.5zM208.6 301.6h1.0v2.3h-1.0zM209.6 301.6h1.0v2.3h-1.0zM210.6 301.6h1.5v2.3h-1.5zM212.1 301.6h1.0v2.3h-1.0zM214.1 301.6h3.0v2.3h-3.0zM218.6 301.6h2.0v2.3h-2.0zM220.6 301.6h2.5v2.3h-2.5zM223.1 301.6h1.0v2.3h-1.0zM224.1 301.6h1.5v2.3h-1.5zM225.6 301.6h1.5v2.3h-1.5zM227.1 301.6h2.0v2.3h-2.0zM229.1 301.6h2.0v2.3h-2.0zM234.1 301.6h3.0v2.3h-3.0zM61.6 304.0h2.5v2.3h-2.5zM64.1 304.0h3.0v2.3h-3.0zM67.1 304.0h1.0v2.3h-1.0zM68.1 304.0h3.0v2.3h-3.0zM73.1 304.0h3.0v2.3h-3.0zM77.1 304.0h3.0v2.3h-3.0zM80.1 304.0h1.5v2.3h-1.5zM81.6 304.0h2.0v2.3h-2.0zM83.6 304.0h1.0v2.3h-1.0zM91.6 304.0h2.5v2.3h-2.5zM94.1 304.0h2.0v2.3h-2.0zM112.1 304.0h2.5v2.3h-2.5zM114.6 304.0h1.5v2.3h-1.5zM116.1 304.0h2.0v2.3h-2.0zM118.1 304.0h3.0v2.3h-3.0zM121.1 304.0h3.0v2.3h-3.0zM124.1 304.0h1.0v2.3h-1.0zM126.1 304.0h2.0v2.3h-2.0zM128.1 304.0h1.5v2.3h-1.5zM131.1 304.0h1.5v2.3h-1.5zM132.6 304.0h2.0v2.3h-2.0zM156.6 304.0h1.0v2.3h-1.0zM157.6 304.0h3.0v2.3h-3.0zM161.6 304.0h2.5v2.3h-2.5zM164.1 304.0h2.5v2.3h-2.5zM166.6 304.0h3.0v2.3h-3.0zM171.6 304.0h2.0v2.3h-2.0zM173.6 304.0h2.0v2.3h-2.0zM181.6 304.0h2.0v2.3h-2.0zM183.6 304.0h3.0v2.3h-3.0zM205.1 304.0h1.0v2.3h-1.0zM206.1 304.0h1.0v2.3h-1.0zM207.1 304.0h1.0v2.3h-1.0zM208.1 304.0h2.0v2.3h-2.0zM210.1 304.0h1.0v2.3h-1.0zM211.1 304.0h3.0v2.3h-3.0zM214.1 304.0h1.0v2.3h-1.0zM215.1 304.0h3.0v2.3h-3.0zM218.1 304.0h2.0v2.3h-2.0zM232.1 304.0h1.0v2.3h-1.0zM237.1 304.0h2.5v2.3h-2.5zM61.6 306.4h2.0v2.3h-2.0zM63.6 306.4h1.0v2.3h-1.0zM64.6 306.4h2.0v2.3h-2.0zM66.6 306.4h1.0v2.3h-1.0zM67.6 306.4h1.0v2.3h-1.0zM68.6 306.4h2.0v2.3h-2.0zM70.6 306.4h2.0v2.3h-2.0zM72.6 306.4h1.0v2.3h-1.0zM74.6 306.4h1.0v2.3h-1.0zM75.6 306.4h1.0v2.3h-1.0zM79.6 306.4h2.0v2.3h-2.0zM81.6 306.4h1.0v2.3h-1.0zM82.6 306.4h2.0v2.3h-2.0zM86.1 306.4h1.0v2.3h-1.0zM100.6 306.4h1.0v2.3h-1.0zM110.1 306.4h3.0v2.3h-3.0zM113.1 306.4h1.0v2.3h-1.0zM114.1 306.4h1.0v2.3h-1.0zM115.1 306.4h2.0v2.3h-2.0zM117.1 306.4h2.0v2.3h-2.0zM119.1 306.4h1.0v2.3h-1.0zM120.1 306.4h1.5v2.3h-1.5zM121.6 306.4h1.0v2.3h-1.0zM122.6 306.4h3.0v2.3h-3.0zM125.6 306.4h2.5v2.3h-2.5zM128.1 306.4h1.0v2.3h-1.0zM131.1 306.4h1.5v2.3h-1.5zM132.6 306.4h2.5v2.3h-2.5zM135.1 306.4h2.0v2.3h-2.0zM152.6 306.4h1.5v2.3h-1.5zM156.6 306.4h1.0v2.3h-1.0zM157.6 306.4h2.0v2.3h-2.0zM159.6 306.4h2.5v2.3h-2.5zM162.1 306.4h2.5v2.3h-2.5zM164.6 306.4h1.5v2.3h-1.5zM166.1 306.4h1.0v2.3h-1.0zM169.1 306.4h1.5v2.3h-1.5zM172.6 306.4h2.0v2.3h-2.0zM174.6 306.4h1.0v2.3h-1.0zM175.6 306.4h1.0v2.3h-1.0zM178.6 306.4h1.5v2.3h-1.5zM180.1 306.4h2.5v2.3h-2.5zM192.6 306.4h2.5v2.3h-2.5zM198.6 306.4h2.5v2.3h-2.5zM204.1 306.4h2.5v2.3h-2.5zM206.6 306.4h1.0v2.3h-1.0zM207.6 306.4h1.0v2.3h-1.0zM208.6 306.4h2.0v2.3h-2.0zM210.6 306.4h2.5v2.3h-2.5zM213.1 306.4h1.0v2.3h-1.0zM214.1 306.4h1.5v2.3h-1.5zM215.6 306.4h2.5v2.3h-2.5zM218.1 306.4h1.5v2.3h-1.5zM221.6 306.4h1.0v2.3h-1.0zM222.6 306.4h3.0v2.3h-3.0zM229.1 306.4h1.0v2.3h-1.0zM232.6 306.4h1.5v2.3h-1.5zM236.6 306.4h2.5v2.3h-2.5zM248.1 306.4h1.9v2.3h-1.9zM61.6 308.8h2.0v2.3h-2.0zM68.6 308.8h2.5v2.3h-2.5zM89.6 308.8h2.0v2.3h-2.0zM92.6 308.8h2.0v2.3h-2.0zM111.6 308.8h2.0v2.3h-2.0zM115.1 308.8h1.5v2.3h-1.5zM116.6 308.8h1.0v2.3h-1.0zM118.6 308.8h2.0v2.3h-2.0zM120.6 308.8h3.0v2.3h-3.0zM156.6 308.8h2.5v2.3h-2.5zM165.1 308.8h2.0v2.3h-2.0zM171.1 308.8h1.0v2.3h-1.0zM182.1 308.8h1.0v2.3h-1.0zM184.1 308.8h2.5v2.3h-2.5zM206.6 308.8h1.5v2.3h-1.5zM208.1 308.8h1.0v2.3h-1.0zM212.1 308.8h1.0v2.3h-1.0zM213.1 308.8h2.5v2.3h-2.5zM219.6 308.8h1.0v2.3h-1.0zM227.1 308.8h2.5v2.3h-2.5zM231.6 308.8h2.0v2.3h-2.0zM245.6 308.8h1.0v2.3h-1.0zM61.6 311.2h3.0v2.3h-3.0zM64.6 311.2h3.0v2.3h-3.0zM67.6 311.2h1.0v2.3h-1.0zM68.6 311.2h3.0v2.3h-3.0zM71.6 311.2h2.5v2.3h-2.5zM75.1 311.2h1.0v2.3h-1.0zM76.1 311.2h1.0v2.3h-1.0zM79.6 311.2h1.0v2.3h-1.0zM80.6 311.2h1.5v2.3h-1.5zM82.1 311.2h2.0v2.3h-2.0zM84.1 311.2h1.0v2.3h-1.0zM85.1 311.2h1.0v2.3h-1.0zM86.1 311.2h1.0v2.3h-1.0zM87.1 311.2h3.0v2.3h-3.0zM91.1 311.2h2.0v2.3h-2.0zM93.1 311.2h2.5v2.3h-2.5zM95.6 311.2h1.0v2.3h-1.0zM96.6 311.2h2.0v2.3h-2.0zM98.6 311.2h2.0v2.3h-2.0zM100.6 311.2h2.0v2.3h-2.0zM102.6 311.2h1.5v2.3h-1.5zM104.1 311.2h1.0v2.3h-1.0zM105.1 311.2h1.5v2.3h-1.5zM106.6 311.2h1.0v2.3h-1.0zM107.6 311.2h2.0v2.3h-2.0zM109.6 311.2h3.0v2.3h-3.0zM112.6 311.2h1.0v2.3h-1.0zM113.6 311.2h2.5v2.3h-2.5zM116.1 311.2h2.0v2.3h-2.0zM118.1 311.2h1.5v2.3h-1.5zM119.6 311.2h2.0v2.3h-2.0zM121.6 311.2h1.0v2.3h-1.0zM122.6 311.2h1.5v2.3h-1.5zM124.1 311.2h1.5v2.3h-1.5zM125.6 311.2h1.0v2.3h-1.0zM126.6 311.2h1.5v2.3h-1.5zM128.1 311.2h1.0v2.3h-1.0zM129.1 311.2h1.0v2.3h-1.0zM130.1 311.2h1.0v2.3h-1.0zM131.1 311.2h2.5v2.3h-2.5zM133.6 311.2h1.0v2.3h-1.0zM134.6 311.2h1.0v2.3h-1.0zM136.6 311.2h1.0v2.3h-1.0zM137.6 311.2h1.0v2.3h-1.0zM138.6 311.2h2.5v2.3h-2.5zM141.1 311.2h2.5v2.3h-2.5zM143.6 311.2h1.5v2.3h-1.5zM145.1 311.2h2.5v2.3h-2.5zM147.6 311.2h1.0v2.3h-1.0zM148.6 311.2h1.5v2.3h-1.5zM150.1 311.2h1.0v2.3h-1.0zM151.1 311.2h1.0v2.3h-1.0zM152.1 311.2h3.0v2.3h-3.0zM156.1 311.2h2.5v2.3h-2.5zM158.6 311.2h1.0v2.3h-1.0zM159.6 311.2h2.0v2.3h-2.0zM161.6 311.2h2.0v2.3h-2.0zM164.6 311.2h2.5v2.3h-2.5zM167.1 311.2h1.0v2.3h-1.0zM168.1 311.2h1.0v2.3h-1.0zM172.1 311.2h3.0v2.3h-3.0zM175.1 311.2h3.0v2.3h-3.0zM178.1 311.2h3.0v2.3h-3.0zM181.1 311.2h3.0v2.3h-3.0zM184.1 311.2h2.0v2.3h-2.0zM186.1 311.2h3.0v2.3h-3.0zM189.1 311.2h2.0v2.3h-2.0zM191.1 311.2h1.0v2.3h-1.0zM192.1 311.2h1.5v2.3h-1.5zM193.6 311.2h3.0v2.3h-3.0zM196.6 311.2h2.0v2.3h-2.0zM201.6 311.2h2.0v2.3h-2.0zM203.6 311.2h1.5v2.3h-1.5zM205.1 311.2h1.5v2.3h-1.5zM206.6 311.2h2.0v2.3h-2.0zM208.6 311.2h2.5v2.3h-2.5zM211.1 311.2h2.5v2.3h-2.5zM213.6 311.2h2.5v2.3h-2.5zM216.1 311.2h2.0v2.3h-2.0zM218.1 311.2h1.5v2.3h-1.5zM219.6 311.2h2.5v2.3h-2.5zM222.1 311.2h1.5v2.3h-1.5zM223.6 311.2h1.0v2.3h-1.0zM224.6 311.2h2.5v2.3h-2.5zM227.1 311.2h1.0v2.3h-1.0zM231.1 311.2h1.5v2.3h-1.5zM232.6 311.2h2.0v2.3h-2.0zM234.6 311.2h2.5v2.3h-2.5zM237.1 311.2h3.0v2.3h-3.0zM240.1 311.2h1.5v2.3h-1.5zM242.6 311.2h1.0v2.3h-1.0zM243.6 311.2h1.0v2.3h-1.0zM244.6 311.2h1.0v2.3h-1.0zM245.6 311.2h1.5v2.3h-1.5zM247.1 311.2h1.5v2.3h-1.5zM248.6 311.2h1.0v2.3h-1.0zM249.6 311.2h0.4v2.3h-0.4zM61.6 313.6h2.0v2.3h-2.0zM63.6 313.6h1.5v2.3h-1.5zM65.1 313.6h2.0v2.3h-2.0zM67.1 313.6h2.0v2.3h-2.0zM69.1 313.6h3.0v2.3h-3.0zM75.6 313.6h1.5v2.3h-1.5zM80.1 313.6h3.0v2.3h-3.0zM85.1 313.6h1.0v2.3h-1.0zM87.1 313.6h1.0v2.3h-1.0zM88.1 313.6h1.5v2.3h-1.5zM92.6 313.6h2.0v2.3h-2.0zM94.6 313.6h3.0v2.3h-3.0zM97.6 313.6h2.0v2.3h-2.0zM99.6 313.6h1.0v2.3h-1.0zM100.6 313.6h2.5v2.3h-2.5zM103.1 313.6h1.0v2.3h-1.0zM105.6 313.6h1.0v2.3h-1.0zM108.1 313.6h1.0v2.3h-1.0zM110.1 313.6h1.5v2.3h-1.5zM111.6 313.6h1.0v2.3h-1.0zM112.6 313.6h2.5v2.3h-2.5zM115.1 313.6h1.0v2.3h-1.0zM116.1 313.6h2.5v2.3h-2.5zM118.6 313.6h3.0v2.3h-3.0zM121.6 313.6h1.0v2.3h-1.0zM124.1 313.6h2.5v2.3h-2.5zM127.6 313.6h1.0v2.3h-1.0zM147.6 313.6h1.0v2.3h-1.0zM153.1 313.6h3.0v2.3h-3.0zM157.1 313.6h1.0v2.3h-1.0zM158.1 313.6h2.0v2.3h-2.0zM160.1 313.6h3.0v2.3h-3.0zM163.1 313.6h1.5v2.3h-1.5zM164.6 313.6h1.5v2.3h-1.5zM166.1 313.6h1.5v2.3h-1.5zM167.6 313.6h3.0v2.3h-3.0zM170.6 313.6h3.0v2.3h-3.0zM173.6 313.6h2.5v2.3h-2.5zM176.1 313.6h1.5v2.3h-1.5zM177.6 313.6h3.0v2.3h-3.0zM180.6 313.6h3.0v2.3h-3.0zM186.1 313.6h2.0v2.3h-2.0zM189.6 313.6h3.0v2.3h-3.0zM192.6 313.6h2.0v2.3h-2.0zM194.6 313.6h2.5v2.3h-2.5zM199.6 313.6h3.0v2.3h-3.0zM202.6 313.6h2.5v2.3h-2.5zM205.1 313.6h2.5v2.3h-2.5zM207.6 313.6h1.0v2.3h-1.0zM208.6 313.6h1.0v2.3h-1.0zM209.6 313.6h2.0v2.3h-2.0zM211.6 313.6h2.5v2.3h-2.5zM214.1 313.6h1.0v2.3h-1.0zM216.1 313.6h1.0v2.3h-1.0zM218.1 313.6h1.0v2.3h-1.0zM219.1 313.6h2.0v2.3h-2.0zM223.6 313.6h1.5v2.3h-1.5zM231.1 313.6h3.0v2.3h-3.0zM238.6 313.6h1.0v2.3h-1.0zM242.6 313.6h3.0v2.3h-3.0zM248.6 313.6h1.0v2.3h-1.0zM249.6 313.6h0.4v2.3h-0.4z" fill="#0a0a0a"/>
<rect x="84.20" y="320.40" width="24.90" height="56.40" fill="#74cc74"/>
<rect x="131.70" y="320.40" width="24.50" height="56.40" fill="#74cc74"/>
<rect x="179.20" y="320.40" width="24.60" height="56.40" fill="#74cc74"/>
<rect x="226.40" y="320.40" width="23.20" height="56.40" fill="#74cc74"/>
<path d="M61.2 376.8L61.20 338.26L62.10 338.26L62.10 338.26L63.00 338.26L63.00 339.46L63.90 339.46L63.90 347.75L64.80 347.75L64.80 345.02L65.70 345.02L65.70 348.63L66.60 348.63L66.60 353.32L67.50 353.32L67.50 350.66L68.40 350.66L68.40 356.47L69.30 356.47L69.30 354.25L70.20 354.25L70.20 352.29L71.10 352.29L71.10 348.68L72.00 348.68L72.00 356.22L72.90 356.22L72.90 357.68L73.80 357.68L73.80 345.39L74.70 345.39L74.70 357.97L75.60 357.97L75.60 362.43L76.50 362.43L76.50 364.11L77.40 364.11L77.40 361.40L78.30 361.40L78.30 359.40L79.20 359.40L79.20 365.74L80.10 365.74L80.10 364.72L81.00 364.72L81.00 364.15L81.90 364.15L81.90 366.55L82.80 366.55L82.80 364.34L83.70 364.34L83.70 365.57L84.60 365.57L84.60 364.04L85.50 364.04L85.50 368.11L86.40 368.11L86.40 369.46L87.30 369.46L87.30 358.87L88.20 358.87L88.20 370.45L89.10 370.45L89.10 366.36L90.00 366.36L90.00 365.97L90.90 365.97L90.90 367.26L91.80 367.26L91.80 368.13L92.70 368.13L92.70 366.86L93.60 366.86L93.60 369.09L94.50 369.09L94.50 371.53L95.40 371.53L95.40 368.46L96.30 368.46L96.30 367.66L97.20 367.66L97.20 370.14L98.10 370.14L98.10 372.17L99.00 372.17L99.00 368.17L99.90 368.17L99.90 363.54L100.80 363.54L100.80 370.51L101.70 370.51L101.70 372.18L102.60 372.18L102.60 369.86L103.50 369.86L103.50 368.58L104.40 368.58L104.40 371.36L105.30 371.36L105.30 371.02L106.20 371.02L106.20 363.82L107.10 363.82L107.10 371.75L108.00 371.75L108.00 370.56L108.90 370.56L108.90 365.32L109.80 365.32L109.80 334.50L110.70 334.50L110.70 336.15L111.60 336.15L111.60 334.68L112.50 334.68L112.50 339.85L113.40 339.85L113.40 343.83L114.30 343.83L114.30 344.87L115.20 344.87L115.20 346.22L116.10 346.22L116.10 353.72L117.00 353.72L117.00 347.64L117.90 347.64L117.90 350.26L118.80 350.26L118.80 351.53L119.70 351.53L119.70 348.02L120.60 348.02L120.60 355.53L121.50 355.53L121.50 360.32L122.40 360.32L122.40 358.03L123.30 358.03L123.30 362.62L124.20 362.62L124.20 363.99L125.10 363.99L125.10 355.42L126.00 355.42L126.00 363.06L126.90 363.06L126.90 365.31L127.80 365.31L127.80 359.83L128.70 359.83L128.70 360.28L129.60 360.28L129.60 365.45L130.50 365.45L130.50 362.72L131.40 362.72L131.40 368.46L132.30 368.46L132.30 358.19L133.20 358.19L133.20 369.17L134.10 369.17L134.10 363.57L135.00 363.57L135.00 365.69L135.90 365.69L135.90 368.01L136.80 368.01L136.80 365.87L137.70 365.87L137.70 366.12L138.60 366.12L138.60 369.62L139.50 369.62L139.50 365.46L140.40 365.46L140.40 366.72L141.30 366.72L141.30 367.31L142.20 367.31L142.20 368.74L143.10 368.74L143.10 366.40L144.00 366.40L144.00 370.47L144.90 370.47L144.90 366.86L145.80 366.86L145.80 367.12L146.70 367.12L146.70 367.17L147.60 367.17L147.60 371.14L148.50 371.14L148.50 371.36L149.40 371.36L149.40 369.25L150.30 369.25L150.30 368.25L151.20 368.25L151.20 369.29L152.10 369.29L152.10 372.22L153.00 372.22L153.00 368.18L153.90 368.18L153.90 369.05L154.80 369.05L154.80 371.92L155.70 371.92L155.70 371.22L156.60 371.22L156.60 343.90L157.50 343.90L157.50 346.52L158.40 346.52L158.40 348.35L159.30 348.35L159.30 344.54L160.20 344.54L160.20 348.51L161.10 348.51L161.10 355.45L162.00 355.45L162.00 357.18L162.90 357.18L162.90 358.17L163.80 358.17L163.80 352.53L164.70 352.53L164.70 344.78L165.60 344.78L165.60 354.19L166.50 354.19L166.50 360.51L167.40 360.51L167.40 352.13L168.30 352.13L168.30 359.76L169.20 359.76L169.20 358.31L170.10 358.31L170.10 359.56L171.00 359.56L171.00 365.23L171.90 365.23L171.90 365.19L172.80 365.19L172.80 363.59L173.70 363.59L173.70 354.78L174.60 354.78L174.60 366.22L175.50 366.22L175.50 365.07L176.40 365.07L176.40 366.58L177.30 366.58L177.30 366.41L178.20 366.41L178.20 360.07L179.10 360.07L179.10 359.54L180.00 359.54L180.00 369.46L180.90 369.46L180.90 366.27L181.80 366.27L181.80 368.99L182.70 368.99L182.70 367.82L183.60 367.82L183.60 370.72L184.50 370.72L184.50 370.06L185.40 370.06L185.40 367.19L186.30 367.19L186.30 368.59L187.20 368.59L187.20 366.77L188.10 366.77L188.10 368.62L189.00 368.62L189.00 369.32L189.90 369.32L189.90 369.78L190.80 369.78L190.80 369.75L191.70 369.75L191.70 368.68L192.60 368.68L192.60 367.50L193.50 367.50L193.50 369.63L194.40 369.63L194.40 364.41L195.30 364.41L195.30 365.55L196.20 365.55L196.20 372.37L197.10 372.37L197.10 368.81L198.00 368.81L198.00 372.06L198.90 372.06L198.90 359.29L199.80 359.29L199.80 368.11L200.70 368.11L200.70 368.25L201.60 368.25L201.60 370.59L202.50 370.59L202.50 368.96L203.40 368.96L203.40 370.95L204.30 370.95L204.30 343.90L205.20 343.90L205.20 343.90L206.10 343.90L206.10 348.20L207.00 348.20L207.00 345.83L207.90 345.83L207.90 354.68L208.80 354.68L208.80 350.90L209.70 350.90L209.70 353.46L210.60 353.46L210.60 358.75L211.50 358.75L211.50 357.04L212.40 357.04L212.40 355.57L213.30 355.57L213.30 346.49L214.20 346.49L214.20 356.30L215.10 356.30L215.10 362.94L216.00 362.94L216.00 364.25L216.90 364.25L216.90 356.73L217.80 356.73L217.80 358.84L218.70 358.84L218.70 353.95L219.60 353.95L219.60 362.80L220.50 362.80L220.50 358.27L221.40 358.27L221.40 354.22L222.30 354.22L222.30 363.99L223.20 363.99L223.20 368.28L224.10 368.28L224.10 368.77L225.00 368.77L225.00 366.52L225.90 366.52L225.90 366.23L226.80 366.23L226.80 361.14L227.70 361.14L227.70 364.71L228.60 364.71L228.60 370.33L229.50 370.33L229.50 368.94L230.40 368.94L230.40 366.45L231.30 366.45L231.30 368.26L232.20 368.26L232.20 364.44L233.10 364.44L233.10 371.50L234.00 371.50L234.00 368.55L234.90 368.55L234.90 369.16L235.80 369.16L235.80 371.39L236.70 371.39L236.70 369.69L237.60 369.69L237.60 367.60L238.50 367.60L238.50 369.53L239.40 369.53L239.40 367.08L240.30 367.08L240.30 368.02L241.20 368.02L241.20 369.17L242.10 369.17L242.10 366.86L243.00 366.86L243.00 372.29L243.90 372.29L243.90 371.40L244.80 371.40L244.80 372.34L245.70 372.34L245.70 368.41L246.60 368.41L246.60 371.44L247.50 371.44L247.50 371.43L248.40 371.43L248.40 372.15L249.30 372.15L249.30 371.67L250.20 371.67L250 376.8Z" fill="#181415"/>
<line x1="61.20" y1="320.40" x2="61.20" y2="376.80" stroke="#333" stroke-width="0.8"/>
<line x1="59.50" y1="320.40" x2="61.20" y2="320.40" stroke="#333" stroke-width="0.7"/>
<text x="57.0" y="324.09999999999997" font-size="10.8" text-anchor="end" font-weight="normal" fill="#1a1a1a" stroke="#1a1a1a" stroke-width="0.3" >30</text>
<line x1="59.50" y1="339.20" x2="61.20" y2="339.20" stroke="#333" stroke-width="0.7"/>
<text x="57.0" y="342.9" font-size="10.8" text-anchor="end" font-weight="normal" fill="#1a1a1a" stroke="#1a1a1a" stroke-width="0.3" >20</text>
<line x1="59.50" y1="358.00" x2="61.20" y2="358.00" stroke="#333" stroke-width="0.7"/>
<text x="57.0" y="362.3" font-size="10.8" text-anchor="end" font-weight="normal" fill="#1a1a1a" stroke="#1a1a1a" stroke-width="0.3" >10</text>
<line x1="59.50" y1="376.80" x2="61.20" y2="376.80" stroke="#333" stroke-width="0.7"/>
<text x="57.0" y="383.9" font-size="10.8" text-anchor="end" font-weight="normal" fill="#1a1a1a" stroke="#1a1a1a" stroke-width="0.3" >0</text>
<line x1="65.60" y1="376.80" x2="65.60" y2="379.30" stroke="#333" stroke-width="0.8"/>
<text x="66.3" y="390" font-size="10.5" text-anchor="middle" font-weight="normal" fill="#1a1a1a" stroke="#1a1a1a" stroke-width="0.3" textLength="11.5" lengthAdjust="spacingAndGlyphs" >15</text>
<line x1="87.35" y1="376.80" x2="87.35" y2="379.30" stroke="#333" stroke-width="0.8"/>
<text x="88.05" y="390" font-size="10.5" text-anchor="middle" font-weight="normal" fill="#1a1a1a" stroke="#1a1a1a" stroke-width="0.3" textLength="11.5" lengthAdjust="spacingAndGlyphs" >20</text>
<line x1="109.10" y1="376.80" x2="109.10" y2="379.30" stroke="#333" stroke-width="0.8"/>
<text x="109.8" y="390" font-size="10.5" text-anchor="middle" font-weight="normal" fill="#1a1a1a" stroke="#1a1a1a" stroke-width="0.3" textLength="11.5" lengthAdjust="spacingAndGlyphs" >25</text>
<line x1="130.85" y1="376.80" x2="130.85" y2="379.30" stroke="#333" stroke-width="0.8"/>
<text x="131.55" y="390" font-size="10.5" text-anchor="middle" font-weight="normal" fill="#1a1a1a" stroke="#1a1a1a" stroke-width="0.3" textLength="11.5" lengthAdjust="spacingAndGlyphs" >30</text>
<line x1="152.60" y1="376.80" x2="152.60" y2="379.30" stroke="#333" stroke-width="0.8"/>
<text x="153.3" y="390" font-size="10.5" text-anchor="middle" font-weight="normal" fill="#1a1a1a" stroke="#1a1a1a" stroke-width="0.3" textLength="11.5" lengthAdjust="spacingAndGlyphs" >35</text>
<line x1="174.35" y1="376.80" x2="174.35" y2="379.30" stroke="#333" stroke-width="0.8"/>
<text x="175.05" y="390" font-size="10.5" text-anchor="middle" font-weight="normal" fill="#1a1a1a" stroke="#1a1a1a" stroke-width="0.3" textLength="11.5" lengthAdjust="spacingAndGlyphs" >40</text>
<line x1="196.10" y1="376.80" x2="196.10" y2="379.30" stroke="#333" stroke-width="0.8"/>
<text x="196.8" y="390" font-size="10.5" text-anchor="middle" font-weight="normal" fill="#1a1a1a" stroke="#1a1a1a" stroke-width="0.3" textLength="11.5" lengthAdjust="spacingAndGlyphs" >45</text>
<line x1="217.85" y1="376.80" x2="217.85" y2="379.30" stroke="#333" stroke-width="0.8"/>
<text x="218.55" y="390" font-size="10.5" text-anchor="middle" font-weight="normal" fill="#1a1a1a" stroke="#1a1a1a" stroke-width="0.3" textLength="11.5" lengthAdjust="spacingAndGlyphs" >50</text>
<line x1="239.60" y1="376.80" x2="239.60" y2="379.30" stroke="#333" stroke-width="0.8"/>
<text x="240.3" y="390" font-size="10.5" text-anchor="middle" font-weight="normal" fill="#1a1a1a" stroke="#1a1a1a" stroke-width="0.3" textLength="11.5" lengthAdjust="spacingAndGlyphs" >55</text>
<text x="161.7" y="405" font-size="10.5" text-anchor="middle" font-weight="normal" fill="#1a1a1a" stroke="#1a1a1a" stroke-width="0.3" textLength="40" lengthAdjust="spacingAndGlyphs" >Time (s)</text>
<text transform="translate(27.4,350.2) rotate(-90)" font-size="11.3" text-anchor="middle" fill="#1a1a1a" stroke="#1a1a1a" stroke-width="0.3" textLength="28.6" lengthAdjust="spacingAndGlyphs">Firing</text>
<text transform="translate(41.5,343.5) rotate(-90)" font-size="11.3" text-anchor="middle" fill="#1a1a1a" stroke="#1a1a1a" stroke-width="0.3" textLength="42" lengthAdjust="spacingAndGlyphs">rate (Hz)</text>
<text transform="translate(41,271.6) rotate(-90)" font-size="10.5" text-anchor="middle" fill="#1a1a1a" stroke="#1a1a1a" stroke-width="0.3" textLength="21.5" lengthAdjust="spacingAndGlyphs">cells</text>
<text x="275" y="223" font-size="13" text-anchor="start" font-weight="bold" fill="#111" stroke="#111" stroke-width="0.3" >D</text>
<path d="M341.2 225.3V221.2H417V225.3" fill="none" stroke="#1a1a1a" stroke-width="1.2"/>
<text x="380.7" y="220.5" font-size="8.5" text-anchor="middle" font-weight="normal" fill="#1a1a1a" stroke="#1a1a1a" stroke-width="0.3" >*</text>
<line x1="301.00" y1="237.40" x2="459.00" y2="237.40" stroke="#111" stroke-width="1.8"/>
<line x1="301.00" y1="380.60" x2="459.00" y2="380.60" stroke="#111" stroke-width="1.8"/>
<line x1="304.50" y1="237.40" x2="304.50" y2="380.30" stroke="#1a1a1a" stroke-width="1.2"/>
<line x1="457.00" y1="237.40" x2="457.00" y2="380.30" stroke="#1a1a1a" stroke-width="1.2"/>
<text x="298" y="241.20000000000002" font-size="10.5" text-anchor="end" font-weight="normal" fill="#1a1a1a" stroke="#1a1a1a" stroke-width="0.3" >30</text>
<line x1="301.00" y1="237.40" x2="304.00" y2="237.40" stroke="#111" stroke-width="0.9"/>
<line x1="457.00" y1="237.40" x2="459.50" y2="237.40" stroke="#111" stroke-width="0.9"/>
<text x="298" y="283.6" font-size="10.5" text-anchor="end" font-weight="normal" fill="#1a1a1a" stroke="#1a1a1a" stroke-width="0.3" >20</text>
<line x1="301.00" y1="279.80" x2="304.00" y2="279.80" stroke="#111" stroke-width="0.9"/>
<line x1="457.00" y1="279.80" x2="459.50" y2="279.80" stroke="#111" stroke-width="0.9"/>
<text x="298" y="335.90000000000003" font-size="10.5" text-anchor="end" font-weight="normal" fill="#1a1a1a" stroke="#1a1a1a" stroke-width="0.3" >10</text>
<line x1="301.00" y1="332.10" x2="304.00" y2="332.10" stroke="#111" stroke-width="0.9"/>
<line x1="457.00" y1="332.10" x2="459.50" y2="332.10" stroke="#111" stroke-width="0.9"/>
<text x="298" y="384.1" font-size="10.5" text-anchor="end" font-weight="normal" fill="#1a1a1a" stroke="#1a1a1a" stroke-width="0.3" >0</text>
<line x1="301.00" y1="380.30" x2="304.00" y2="380.30" stroke="#111" stroke-width="0.9"/>
<line x1="457.00" y1="380.30" x2="459.50" y2="380.30" stroke="#111" stroke-width="0.9"/>
<line x1="342.00" y1="317.00" x2="342.00" y2="342.40" stroke="#1a1a1a" stroke-width="1.15"/>
<line x1="342.00" y1="371.00" x2="342.00" y2="374.30" stroke="#1a1a1a" stroke-width="1.15"/>
<line x1="336.00" y1="317.00" x2="347.80" y2="317.00" stroke="#1a1a1a" stroke-width="1.15"/>
<line x1="336.00" y1="374.30" x2="347.80" y2="374.30" stroke="#1a1a1a" stroke-width="1.15"/>
<rect x="330.60" y="342.40" width="22.80" height="28.60" fill="#ffffff" stroke="#1a1a1a" stroke-width="1.1"/>
<line x1="331.10" y1="362.60" x2="352.90" y2="362.60" stroke="#d9505c" stroke-width="1.0"/>
<line x1="417.90" y1="243.80" x2="417.90" y2="272.00" stroke="#1a1a1a" stroke-width="1.15"/>
<line x1="417.90" y1="325.00" x2="417.90" y2="361.00" stroke="#1a1a1a" stroke-width="1.15"/>
<line x1="412.40" y1="243.80" x2="423.40" y2="243.80" stroke="#1a1a1a" stroke-width="1.15"/>
<line x1="412.40" y1="361.00" x2="423.40" y2="361.00" stroke="#1a1a1a" stroke-width="1.15"/>
<rect x="406.30" y="272.00" width="23.20" height="53.00" fill="#ffffff" stroke="#1a1a1a" stroke-width="1.1"/>
<line x1="406.80" y1="298.00" x2="429.00" y2="298.00" stroke="#d9505c" stroke-width="1.0"/>
<text x="341.7" y="404.2" font-size="10.5" text-anchor="middle" font-weight="normal" fill="#1a1a1a" stroke="#1a1a1a" stroke-width="0.3" textLength="36" lengthAdjust="spacingAndGlyphs" >500 nm</text>
<text x="422" y="404.5" font-size="10.5" text-anchor="middle" font-weight="normal" fill="#1a1a1a" stroke="#1a1a1a" stroke-width="0.3" textLength="56" lengthAdjust="spacingAndGlyphs" >White Light</text>
<text transform="translate(279,312.7) rotate(-90)" font-size="10.3" text-anchor="middle" fill="#1a1a1a" stroke="#1a1a1a" stroke-width="0.3" textLength="113.6" lengthAdjust="spacingAndGlyphs">Average Firing Rate (Hz)</text>
<text x="466.5" y="222.2" font-size="13" text-anchor="start" font-weight="bold" fill="#111" stroke="#111" stroke-width="0.3" >E</text>
<line x1="518.90" y1="236.50" x2="518.90" y2="383.00" stroke="#111" stroke-width="2.0"/>
<line x1="515.30" y1="353.20" x2="699.00" y2="353.20" stroke="#111" stroke-width="2.0"/>
<line x1="515.30" y1="237.20" x2="518.80" y2="237.20" stroke="#111" stroke-width="1.5"/>
<text x="510.0" y="246.8" font-size="10.5" text-anchor="end" font-weight="normal" fill="#1a1a1a" stroke="#1a1a1a" stroke-width="0.3" >0.4</text>
<line x1="515.30" y1="266.20" x2="518.80" y2="266.20" stroke="#111" stroke-width="1.5"/>
<text x="510.0" y="273.2" font-size="10.5" text-anchor="end" font-weight="normal" fill="#1a1a1a" stroke="#1a1a1a" stroke-width="0.3" >0.3</text>
<line x1="515.30" y1="295.20" x2="518.80" y2="295.20" stroke="#111" stroke-width="1.5"/>
<text x="510.0" y="301.0" font-size="10.5" text-anchor="end" font-weight="normal" fill="#1a1a1a" stroke="#1a1a1a" stroke-width="0.3" >0.2</text>
<line x1="515.30" y1="324.20" x2="518.80" y2="324.20" stroke="#111" stroke-width="1.5"/>
<text x="510.0" y="329.6" font-size="10.5" text-anchor="end" font-weight="normal" fill="#1a1a1a" stroke="#1a1a1a" stroke-width="0.3" >0.1</text>
<text x="510.0" y="353.3" font-size="10.5" text-anchor="end" font-weight="normal" fill="#1a1a1a" stroke="#1a1a1a" stroke-width="0.3" >0</text>
<line x1="515.30" y1="382.20" x2="518.80" y2="382.20" stroke="#111" stroke-width="1.5"/>
<text x="510.0" y="380.8" font-size="10.5" text-anchor="end" font-weight="normal" fill="#1a1a1a" stroke="#1a1a1a" stroke-width="0.3" >-0.1</text>
<line x1="548.50" y1="353.20" x2="548.50" y2="356.70" stroke="#111" stroke-width="1.2"/>
<text x="545.4" y="371.8" font-size="10.5" text-anchor="middle" font-weight="normal" fill="#1a1a1a" stroke="#1a1a1a" stroke-width="0.3" textLength="11" lengthAdjust="spacingAndGlyphs" >12</text>
<line x1="578.50" y1="353.20" x2="578.50" y2="356.70" stroke="#111" stroke-width="1.2"/>
<text x="576" y="371.8" font-size="10.5" text-anchor="middle" font-weight="normal" fill="#1a1a1a" stroke="#1a1a1a" stroke-width="0.3" textLength="11" lengthAdjust="spacingAndGlyphs" >13</text>
<line x1="608.50" y1="353.20" x2="608.50" y2="356.70" stroke="#111" stroke-width="1.2"/>
<text x="607.8" y="371.8" font-size="10.5" text-anchor="middle" font-weight="normal" fill="#1a1a1a" stroke="#1a1a1a" stroke-width="0.3" textLength="11" lengthAdjust="spacingAndGlyphs" >14</text>
<line x1="638.50" y1="353.20" x2="638.50" y2="356.70" stroke="#111" stroke-width="1.2"/>
<text x="638.8" y="371.8" font-size="10.5" text-anchor="middle" font-weight="normal" fill="#1a1a1a" stroke="#1a1a1a" stroke-width="0.3" textLength="11" lengthAdjust="spacingAndGlyphs" >15</text>
<line x1="668.50" y1="353.20" x2="668.50" y2="356.70" stroke="#111" stroke-width="1.2"/>
<text x="669.3" y="371.8" font-size="10.5" text-anchor="middle" font-weight="normal" fill="#1a1a1a" stroke="#1a1a1a" stroke-width="0.3" textLength="11" lengthAdjust="spacingAndGlyphs" >16</text>
<line x1="698.50" y1="353.20" x2="698.50" y2="356.70" stroke="#111" stroke-width="1.2"/>
<text x="700.5" y="371.8" font-size="10.5" text-anchor="middle" font-weight="normal" fill="#1a1a1a" stroke="#1a1a1a" stroke-width="0.3" textLength="11" lengthAdjust="spacingAndGlyphs" >17</text>
<line x1="535.30" y1="352.80" x2="535.30" y2="368.40" stroke="#1c1c1c" stroke-width="1.4"/>
<line x1="551.80" y1="353.00" x2="551.80" y2="369.40" stroke="#1c1c1c" stroke-width="1.4"/>
<line x1="589.80" y1="351.20" x2="589.80" y2="362.80" stroke="#1c1c1c" stroke-width="1.4"/>
<line x1="619.20" y1="340.60" x2="619.20" y2="367.70" stroke="#1c1c1c" stroke-width="1.4"/>
<line x1="650.90" y1="298.00" x2="650.90" y2="342.00" stroke="#1c1c1c" stroke-width="1.4"/>
<line x1="669.50" y1="257.80" x2="669.50" y2="308.00" stroke="#1c1c1c" stroke-width="1.4"/>
<line x1="680.40" y1="247.00" x2="680.40" y2="286.50" stroke="#1c1c1c" stroke-width="1.4"/>
<polyline points="535.3,358.5 551.8,361.8 589.8,356.2 619.2,353.8 650.9,318.9 669.5,284 680.4,266.7" fill="none" stroke="#0d0d0d" stroke-width="2.3" stroke-linejoin="round"/>
<rect x="534.00" y="356.60" width="2.70" height="5.20" fill="#111"/>
<text transform="translate(488.5,313.1) rotate(-90)" font-size="10.5" text-anchor="middle" fill="#1a1a1a" stroke="#1a1a1a" stroke-width="0.3" textLength="88.5" lengthAdjust="spacingAndGlyphs">Photoswitch Index</text>
<text x="608.5" y="405.2" font-size="11.3" text-anchor="middle" font-weight="normal" fill="#1a1a1a" stroke="#1a1a1a" stroke-width="0.3" textLength="154.5" lengthAdjust="spacingAndGlyphs" >Log Intensity (photons/cm<tspan dy="-4.8" font-size="7.2" font-weight="bold"> 2</tspan><tspan dy="4.8"> x sec)</tspan></text>
<text x="17" y="438" font-size="10.8" text-anchor="start" font-weight="bold" fill="#8e2e25" stroke="#8e2e25" stroke-width="0.3" textLength="482.6" lengthAdjust="spacingAndGlyphs" >Figure 4.&#160; Spectral and Illuminance Sensitivity of AAQ-Mediated Photocontrol of RGC Firing</text>
</svg></body></html>
